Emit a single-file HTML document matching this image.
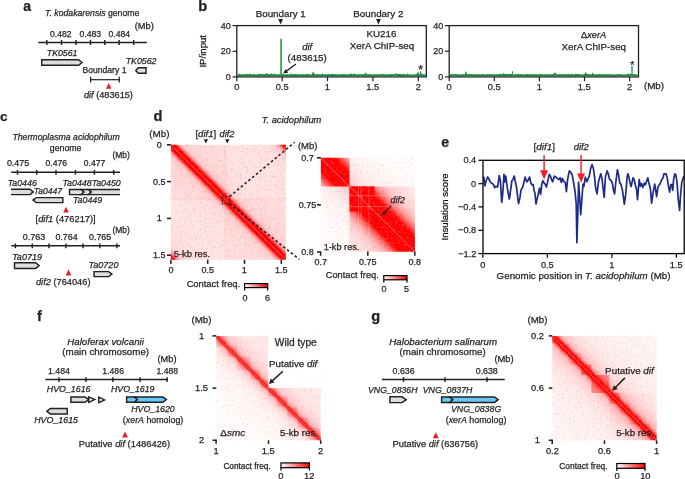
<!DOCTYPE html><html><head><meta charset="utf-8"><style>html,body{margin:0;padding:0;background:#fff}svg{display:block;will-change:transform}text{font-family:"Liberation Sans",sans-serif;stroke:currentColor;stroke-width:0.25px}</style></head><body><svg width="685" height="479" viewBox="0 0 685 479"><filter id="nzw" x="0" y="0" width="1" height="1" color-interpolation-filters="sRGB"><feTurbulence type="fractalNoise" baseFrequency="0.45" numOctaves="1" seed="7"/><feColorMatrix type="matrix" values="0 0 0 0 1  0 0 0 0 1  0 0 0 0 1  0.8 0 0 0 -0.4"/></filter><filter id="nzr" x="0" y="0" width="1" height="1" color-interpolation-filters="sRGB"><feTurbulence type="fractalNoise" baseFrequency="0.45" numOctaves="1" seed="11"/><feColorMatrix type="matrix" values="0 0 0 0 1  0 0 0 0 0  0 0 0 0 0  0 0.8 0 0 -0.42"/></filter><text x="23.28" y="10.80" font-size="14.00" fill="#231f20" color="#231f20"><tspan font-weight="bold">a</tspan></text><text x="45.02" y="15.80" font-size="8.70" fill="#231f20" color="#231f20"><tspan font-style="italic">T. kodakarensis</tspan><tspan> genome</tspan></text><text x="134.75" y="28.70" font-size="9.22" fill="#231f20" color="#231f20"><tspan>(Mb)</tspan></text><text x="50.06" y="37.20" font-size="8.59" fill="#231f20" color="#231f20"><tspan>0.482</tspan></text><text x="79.45" y="37.20" font-size="8.68" fill="#231f20" color="#231f20"><tspan>0.483</tspan></text><text x="108.45" y="37.20" font-size="8.64" fill="#231f20" color="#231f20"><tspan>0.484</tspan></text><line x1="38.30" y1="42.50" x2="146.80" y2="42.50" stroke="#231f20" stroke-width="1.55"/><line x1="46.90" y1="40.00" x2="46.90" y2="45.00" stroke="#231f20" stroke-width="1.45"/><line x1="61.50" y1="40.00" x2="61.50" y2="45.00" stroke="#231f20" stroke-width="1.45"/><line x1="76.00" y1="40.00" x2="76.00" y2="45.00" stroke="#231f20" stroke-width="1.45"/><line x1="90.50" y1="40.00" x2="90.50" y2="45.00" stroke="#231f20" stroke-width="1.45"/><line x1="104.80" y1="40.00" x2="104.80" y2="45.00" stroke="#231f20" stroke-width="1.45"/><line x1="119.10" y1="40.00" x2="119.10" y2="45.00" stroke="#231f20" stroke-width="1.45"/><line x1="133.70" y1="40.00" x2="133.70" y2="45.00" stroke="#231f20" stroke-width="1.45"/><text x="46.81" y="56.20" font-size="8.78" fill="#231f20" color="#231f20"><tspan font-style="italic">TK0561</tspan></text><path d="M41.70 59.70H78.60L82.00 62.45L78.60 65.20H41.70Z" fill="#dcdddd" stroke="#231f20" stroke-width="1.45"/><text x="125.71" y="64.40" font-size="8.81" fill="#231f20" color="#231f20"><tspan font-style="italic">TK0562</tspan></text><path d="M146.00 67.80H138.20L135.80 70.50L138.20 73.20H146.00Z" fill="#dcdddd" stroke="#231f20" stroke-width="1.45"/><text x="82.41" y="73.20" font-size="8.62" fill="#231f20" color="#231f20"><tspan>Boundary 1</tspan></text><line x1="90.20" y1="79.70" x2="119.70" y2="79.70" stroke="#231f20" stroke-width="1.2"/><line x1="90.60" y1="76.70" x2="90.60" y2="82.40" stroke="#231f20" stroke-width="1.2"/><line x1="119.30" y1="76.70" x2="119.30" y2="82.40" stroke="#231f20" stroke-width="1.2"/><path d="M105.95 88.80H111.45L108.70 83.00Z" fill="#ee1c25"/><text x="83.88" y="98.30" font-size="9.20" fill="#231f20" color="#231f20"><tspan font-style="italic">dif</tspan><tspan> (483615)</tspan></text><text x="198.25" y="10.60" font-size="14.60" fill="#231f20" color="#231f20"><tspan font-weight="bold">b</tspan></text><text transform="translate(206.3,51.3) rotate(-90)" text-anchor="middle" font-size="9.6" fill="#231f20">IP/input</text><rect x="236.8" y="25.6" width="189.5" height="51.300000000000004" fill="none" stroke="#231f20" stroke-width="1.3"/><line x1="232.60" y1="25.60" x2="236.80" y2="25.60" stroke="#231f20" stroke-width="1.2"/><text x="220.82" y="28.60" font-size="9.00" fill="#231f20" color="#231f20"><tspan>40</tspan></text><line x1="232.60" y1="51.30" x2="236.80" y2="51.30" stroke="#231f20" stroke-width="1.2"/><text x="220.83" y="54.30" font-size="9.00" fill="#231f20" color="#231f20"><tspan>20</tspan></text><line x1="232.60" y1="76.90" x2="236.80" y2="76.90" stroke="#231f20" stroke-width="1.2"/><text x="225.82" y="79.90" font-size="9.00" fill="#231f20" color="#231f20"><tspan>0</tspan></text><line x1="236.80" y1="76.90" x2="236.80" y2="81.20" stroke="#231f20" stroke-width="1.2"/><text x="234.20" y="90.20" font-size="9.30" fill="#231f20" color="#231f20"><tspan>0</tspan></text><line x1="282.18" y1="76.90" x2="282.18" y2="81.20" stroke="#231f20" stroke-width="1.2"/><text x="275.71" y="90.20" font-size="9.30" fill="#231f20" color="#231f20"><tspan>0.5</tspan></text><line x1="327.55" y1="76.90" x2="327.55" y2="81.20" stroke="#231f20" stroke-width="1.2"/><text x="324.83" y="90.20" font-size="9.30" fill="#231f20" color="#231f20"><tspan>1</tspan></text><line x1="372.93" y1="76.90" x2="372.93" y2="81.20" stroke="#231f20" stroke-width="1.2"/><text x="366.30" y="90.20" font-size="9.30" fill="#231f20" color="#231f20"><tspan>1.5</tspan></text><line x1="418.30" y1="76.90" x2="418.30" y2="81.20" stroke="#231f20" stroke-width="1.2"/><text x="415.72" y="90.20" font-size="9.30" fill="#231f20" color="#231f20"><tspan>2</tspan></text><rect x="449.2" y="25.6" width="189.3" height="51.300000000000004" fill="none" stroke="#231f20" stroke-width="1.3"/><line x1="445.00" y1="25.60" x2="449.20" y2="25.60" stroke="#231f20" stroke-width="1.2"/><text x="433.22" y="28.60" font-size="9.00" fill="#231f20" color="#231f20"><tspan>40</tspan></text><line x1="445.00" y1="51.30" x2="449.20" y2="51.30" stroke="#231f20" stroke-width="1.2"/><text x="433.22" y="54.30" font-size="9.00" fill="#231f20" color="#231f20"><tspan>20</tspan></text><line x1="445.00" y1="76.90" x2="449.20" y2="76.90" stroke="#231f20" stroke-width="1.2"/><text x="438.22" y="79.90" font-size="9.00" fill="#231f20" color="#231f20"><tspan>0</tspan></text><line x1="449.20" y1="76.90" x2="449.20" y2="81.20" stroke="#231f20" stroke-width="1.2"/><text x="446.60" y="90.20" font-size="9.30" fill="#231f20" color="#231f20"><tspan>0</tspan></text><line x1="494.30" y1="76.90" x2="494.30" y2="81.20" stroke="#231f20" stroke-width="1.2"/><text x="487.84" y="90.20" font-size="9.30" fill="#231f20" color="#231f20"><tspan>0.5</tspan></text><line x1="539.40" y1="76.90" x2="539.40" y2="81.20" stroke="#231f20" stroke-width="1.2"/><text x="536.68" y="90.20" font-size="9.30" fill="#231f20" color="#231f20"><tspan>1</tspan></text><line x1="584.50" y1="76.90" x2="584.50" y2="81.20" stroke="#231f20" stroke-width="1.2"/><text x="577.87" y="90.20" font-size="9.30" fill="#231f20" color="#231f20"><tspan>1.5</tspan></text><line x1="629.60" y1="76.90" x2="629.60" y2="81.20" stroke="#231f20" stroke-width="1.2"/><text x="627.02" y="90.20" font-size="9.30" fill="#231f20" color="#231f20"><tspan>2</tspan></text><path d="M237.5 74.8 L238.2 75.3 L238.9 75.3 L239.6 74.8 L240.3 75.1 L241.0 75.3 L241.7 75.3 L242.4 75.1 L243.1 75.3 L243.8 75.1 L244.5 75.4 L245.2 75.2 L245.9 75.3 L246.6 74.8 L247.3 75.3 L248.0 75.1 L248.7 75.1 L249.4 75.4 L250.1 74.6 L250.8 75.1 L251.5 75.3 L252.2 75.3 L252.9 75.4 L253.6 75.0 L254.3 75.3 L255.0 75.3 L255.7 75.2 L256.4 75.3 L257.1 75.3 L257.8 75.2 L258.5 74.9 L259.2 75.1 L259.9 74.8 L260.6 75.2 L261.3 74.8 L262.0 74.7 L262.7 75.0 L263.4 75.1 L264.1 75.4 L264.8 74.9 L265.5 75.2 L266.2 75.1 L266.9 74.2 L267.6 75.0 L268.3 75.2 L269.0 75.3 L269.7 75.0 L270.4 75.4 L271.1 75.2 L271.8 74.5 L272.5 75.2 L273.2 75.4 L273.9 75.2 L274.6 74.6 L275.3 75.0 L276.0 75.3 L276.7 75.2 L277.4 75.0 L278.1 75.0 L278.8 75.2 L279.5 75.2 L280.2 75.3 L280.9 75.4 L281.6 75.2 L282.3 75.1 L283.0 75.2 L283.7 75.2 L284.4 75.3 L285.1 75.2 L285.8 75.3 L286.5 75.3 L287.2 75.0 L287.9 75.2 L288.6 75.4 L289.3 75.4 L290.0 74.9 L290.7 74.5 L291.4 75.2 L292.1 75.1 L292.8 75.4 L293.5 75.2 L294.2 74.8 L294.9 75.3 L295.6 75.1 L296.3 75.1 L297.0 74.9 L297.7 75.4 L298.4 75.2 L299.1 75.1 L299.8 75.4 L300.5 75.3 L301.2 75.2 L301.9 75.4 L302.6 75.2 L303.3 75.2 L304.0 75.2 L304.7 75.4 L305.4 75.4 L306.1 74.9 L306.8 75.3 L307.5 74.9 L308.2 74.9 L308.9 75.4 L309.6 75.4 L310.3 75.3 L311.0 75.3 L311.7 75.4 L312.4 75.2 L313.1 73.5 L313.8 75.1 L314.5 74.8 L315.2 75.4 L315.9 75.2 L316.6 74.9 L317.3 75.4 L318.0 75.0 L318.7 75.2 L319.4 75.2 L320.1 75.2 L320.8 75.3 L321.5 75.2 L322.2 74.7 L322.9 75.4 L323.6 75.4 L324.3 75.2 L325.0 75.4 L325.7 75.0 L326.4 75.4 L327.1 75.1 L327.8 75.2 L328.5 75.2 L329.2 75.2 L329.9 75.1 L330.6 75.4 L331.3 75.0 L332.0 75.3 L332.7 74.8 L333.4 75.4 L334.1 75.0 L334.8 75.3 L335.5 75.2 L336.2 75.2 L336.9 75.3 L337.6 75.2 L338.3 75.1 L339.0 75.4 L339.7 75.4 L340.4 75.2 L341.1 75.1 L341.8 75.3 L342.5 74.9 L343.2 75.1 L343.9 75.1 L344.6 75.4 L345.3 75.0 L346.0 75.1 L346.7 75.2 L347.4 75.3 L348.1 75.3 L348.8 74.9 L349.5 75.1 L350.2 75.2 L350.9 74.5 L351.6 75.2 L352.3 75.3 L353.0 75.1 L353.7 74.5 L354.4 75.2 L355.1 75.2 L355.8 74.9 L356.5 75.3 L357.2 75.4 L357.9 75.4 L358.6 75.2 L359.3 75.2 L360.0 75.3 L360.7 75.2 L361.4 75.3 L362.1 75.0 L362.8 75.4 L363.5 75.1 L364.2 75.2 L364.9 75.0 L365.6 73.9 L366.3 75.3 L367.0 75.2 L367.7 75.3 L368.4 75.2 L369.1 75.1 L369.8 75.1 L370.5 75.0 L371.2 75.4 L371.9 75.3 L372.6 75.4 L373.3 75.3 L374.0 75.3 L374.7 75.0 L375.4 75.3 L376.1 75.4 L376.8 75.3 L377.5 75.0 L378.2 75.1 L378.9 75.1 L379.6 75.3 L380.3 75.2 L381.0 75.3 L381.7 74.8 L382.4 74.8 L383.1 75.2 L383.8 75.2 L384.5 75.1 L385.2 75.4 L385.9 75.3 L386.6 75.1 L387.3 75.4 L388.0 75.2 L388.7 75.3 L389.4 75.2 L390.1 75.2 L390.8 75.2 L391.5 75.0 L392.2 75.3 L392.9 75.1 L393.6 75.4 L394.3 74.8 L395.0 75.0 L395.7 74.6 L396.4 74.3 L397.1 75.2 L397.8 75.4 L398.5 74.9 L399.2 75.4 L399.9 74.7 L400.6 75.4 L401.3 75.2 L402.0 75.3 L402.7 75.0 L403.4 75.1 L404.1 75.0 L404.8 75.4 L405.5 75.3 L406.2 75.4 L406.9 75.3 L407.6 74.6 L408.3 75.0 L409.0 75.0 L409.7 75.4 L410.4 75.4 L411.1 75.3 L411.8 75.3 L412.5 75.3 L413.2 75.4 L413.9 75.3 L414.6 75.3 L415.3 75.3 L416.0 75.0 L416.7 75.4 L417.4 75.4 L418.1 73.7 L418.8 75.3 L419.5 75.3 L420.2 75.3 L420.9 74.0 L421.6 75.1 L422.3 75.3 L423.0 75.3 L423.7 75.0 L424.4 75.3 L425.1 75.4 L425.8 75.4" fill="none" stroke="#15893f" stroke-width="1.7"/><line x1="281.10" y1="76.20" x2="281.10" y2="38.80" stroke="#1b9646" stroke-width="1.6"/><line x1="420.50" y1="76.20" x2="420.50" y2="71.30" stroke="#1b9646" stroke-width="1.3"/><path d="M449.9 75.2 L450.6 75.3 L451.3 75.1 L452.0 75.2 L452.7 74.9 L453.4 75.0 L454.1 74.9 L454.8 74.9 L455.5 75.1 L456.2 75.3 L456.9 75.2 L457.6 75.2 L458.3 75.2 L459.0 75.3 L459.7 75.3 L460.4 75.4 L461.1 75.3 L461.8 75.3 L462.5 75.0 L463.2 75.1 L463.9 75.2 L464.6 75.3 L465.3 75.4 L466.0 73.4 L466.7 75.1 L467.4 75.2 L468.1 75.3 L468.8 75.0 L469.5 74.7 L470.2 75.1 L470.9 75.2 L471.6 75.0 L472.3 75.3 L473.0 75.2 L473.7 75.4 L474.4 75.4 L475.1 75.1 L475.8 75.0 L476.5 75.1 L477.2 75.1 L477.9 75.3 L478.6 75.0 L479.3 75.0 L480.0 75.4 L480.7 75.4 L481.4 75.2 L482.1 74.8 L482.8 75.3 L483.5 75.3 L484.2 75.2 L484.9 75.4 L485.6 75.4 L486.3 75.3 L487.0 74.9 L487.7 75.1 L488.4 75.2 L489.1 75.1 L489.8 75.1 L490.5 75.3 L491.2 75.0 L491.9 75.3 L492.6 75.1 L493.3 75.3 L494.0 75.2 L494.7 75.1 L495.4 75.3 L496.1 75.2 L496.8 75.2 L497.5 75.3 L498.2 75.2 L498.9 75.4 L499.6 74.8 L500.3 75.1 L501.0 75.4 L501.7 75.3 L502.4 74.9 L503.1 75.3 L503.8 74.3 L504.5 75.2 L505.2 75.1 L505.9 75.2 L506.6 74.9 L507.3 75.1 L508.0 75.1 L508.7 74.7 L509.4 75.3 L510.1 75.3 L510.8 74.8 L511.5 75.2 L512.2 74.6 L512.9 75.2 L513.6 75.3 L514.3 75.3 L515.0 75.2 L515.7 74.8 L516.4 75.0 L517.1 75.0 L517.8 74.8 L518.5 75.4 L519.2 75.1 L519.9 75.2 L520.6 75.3 L521.3 74.9 L522.0 75.3 L522.7 75.4 L523.4 75.1 L524.1 75.4 L524.8 75.3 L525.5 75.0 L526.2 75.0 L526.9 75.4 L527.6 74.7 L528.3 75.1 L529.0 75.1 L529.7 75.2 L530.4 75.3 L531.1 75.2 L531.8 75.0 L532.5 75.1 L533.2 75.2 L533.9 75.4 L534.6 74.9 L535.3 75.3 L536.0 75.3 L536.7 75.3 L537.4 75.1 L538.1 75.2 L538.8 75.4 L539.5 75.3 L540.2 75.1 L540.9 74.9 L541.6 75.4 L542.3 75.0 L543.0 75.2 L543.7 75.3 L544.4 75.3 L545.1 75.1 L545.8 75.4 L546.5 75.4 L547.2 75.0 L547.9 75.3 L548.6 75.4 L549.3 75.1 L550.0 75.1 L550.7 75.1 L551.4 75.4 L552.1 75.2 L552.8 75.1 L553.5 75.0 L554.2 75.2 L554.9 73.7 L555.6 74.8 L556.3 75.1 L557.0 75.0 L557.7 75.2 L558.4 75.2 L559.1 75.0 L559.8 75.1 L560.5 75.3 L561.2 75.2 L561.9 75.0 L562.6 75.2 L563.3 75.2 L564.0 75.3 L564.7 75.0 L565.4 74.8 L566.1 75.2 L566.8 75.1 L567.5 75.2 L568.2 75.3 L568.9 74.9 L569.6 75.0 L570.3 75.3 L571.0 75.2 L571.7 74.8 L572.4 75.4 L573.1 75.3 L573.8 75.3 L574.5 75.2 L575.2 75.3 L575.9 74.7 L576.6 75.3 L577.3 75.0 L578.0 75.3 L578.7 75.0 L579.4 75.2 L580.1 75.3 L580.8 75.1 L581.5 75.3 L582.2 75.3 L582.9 75.3 L583.6 75.2 L584.3 75.2 L585.0 75.3 L585.7 73.8 L586.4 75.3 L587.1 74.9 L587.8 74.9 L588.5 75.1 L589.2 75.2 L589.9 75.3 L590.6 75.1 L591.3 75.3 L592.0 75.3 L592.7 74.0 L593.4 75.0 L594.1 75.2 L594.8 75.3 L595.5 75.3 L596.2 75.0 L596.9 75.3 L597.6 75.4 L598.3 74.9 L599.0 75.2 L599.7 75.2 L600.4 75.0 L601.1 75.3 L601.8 75.2 L602.5 75.0 L603.2 75.1 L603.9 75.4 L604.6 75.1 L605.3 75.1 L606.0 75.3 L606.7 75.4 L607.4 75.1 L608.1 74.9 L608.8 75.3 L609.5 75.3 L610.2 75.2 L610.9 75.3 L611.6 75.1 L612.3 75.2 L613.0 75.2 L613.7 75.3 L614.4 75.3 L615.1 75.3 L615.8 75.3 L616.5 75.3 L617.2 75.0 L617.9 74.9 L618.6 75.1 L619.3 75.2 L620.0 75.1 L620.7 75.2 L621.4 75.1 L622.1 75.3 L622.8 75.4 L623.5 75.3 L624.2 75.3 L624.9 75.3 L625.6 75.1 L626.3 75.0 L627.0 74.9 L627.7 74.8 L628.4 75.4 L629.1 75.1 L629.8 74.6 L630.5 75.1 L631.2 74.7 L631.9 75.0 L632.6 75.0 L633.3 75.2 L634.0 74.8 L634.7 74.8 L635.4 75.3 L636.1 75.3 L636.8 75.3 L637.5 74.9" fill="none" stroke="#15893f" stroke-width="1.7"/><line x1="632.00" y1="76.20" x2="632.00" y2="66.10" stroke="#1b9646" stroke-width="1.3"/><line x1="512.50" y1="76.20" x2="512.50" y2="71.30" stroke="#1b9646" stroke-width="1.1"/><text x="255.72" y="16.80" font-size="9.78" fill="#231f20" color="#231f20"><tspan>Boundary 1</tspan></text><text x="353.32" y="16.80" font-size="9.79" fill="#231f20" color="#231f20"><tspan>Boundary 2</tspan></text><path d="M278.20 19.00H283.00L280.60 24.60Z" fill="#231f20"/><path d="M376.10 19.00H380.90L378.50 24.60Z" fill="#231f20"/><text x="366.41" y="36.70" font-size="9.81" fill="#231f20" color="#231f20"><tspan>KU216</tspan></text><text x="349.86" y="48.80" font-size="9.72" fill="#231f20" color="#231f20"><tspan>XerA ChIP-seq</tspan></text><text x="302.17" y="49.60" font-size="9.55" fill="#231f20" color="#231f20"><tspan font-style="italic">dif</tspan></text><text x="287.61" y="61.30" font-size="9.79" fill="#231f20" color="#231f20"><tspan>(483615)</tspan></text><line x1="296.00" y1="64.10" x2="286.42" y2="71.13" stroke="#231f20" stroke-width="1.3"/><path d="M283.20 73.50L285.47 68.98L288.19 72.69Z" fill="#231f20"/><text x="418.22" y="73.83" font-size="12.22" fill="#231f20" color="#231f20"><tspan>*</tspan></text><text x="580.92" y="37.70" font-size="9.32" fill="#231f20" color="#231f20"><tspan>Δ</tspan><tspan font-style="italic">xerA</tspan></text><text x="561.46" y="49.50" font-size="9.78" fill="#231f20" color="#231f20"><tspan>XerA ChIP-seq</tspan></text><text x="630.34" y="68.78" font-size="10.56" fill="#231f20" color="#231f20"><tspan>*</tspan></text><text x="643.91" y="88.90" font-size="9.79" fill="#231f20" color="#231f20"><tspan>(Mb)</tspan></text><text x="0.06" y="120.50" font-size="13.60" fill="#231f20" color="#231f20"><tspan font-weight="bold">c</tspan></text><text x="12.41" y="139.60" font-size="8.74" fill="#231f20" color="#231f20"><tspan font-style="italic">Thermoplasma acidophilum</tspan></text><text x="49.85" y="150.70" font-size="8.75" fill="#231f20" color="#231f20"><tspan>genome</tspan></text><text x="112.39" y="158.30" font-size="8.45" fill="#231f20" color="#231f20"><tspan>(Mb)</tspan></text><text x="6.94" y="166.40" font-size="8.88" fill="#231f20" color="#231f20"><tspan>0.475</tspan></text><text x="45.56" y="166.40" font-size="8.55" fill="#231f20" color="#231f20"><tspan>0.476</tspan></text><text x="83.86" y="166.40" font-size="8.51" fill="#231f20" color="#231f20"><tspan>0.477</tspan></text><line x1="11.30" y1="172.20" x2="120.00" y2="172.20" stroke="#231f20" stroke-width="1.55"/><line x1="17.50" y1="170.00" x2="17.50" y2="174.70" stroke="#231f20" stroke-width="1.45"/><line x1="36.70" y1="170.00" x2="36.70" y2="174.70" stroke="#231f20" stroke-width="1.45"/><line x1="56.00" y1="170.00" x2="56.00" y2="174.70" stroke="#231f20" stroke-width="1.45"/><line x1="75.40" y1="170.00" x2="75.40" y2="174.70" stroke="#231f20" stroke-width="1.45"/><line x1="94.40" y1="170.00" x2="94.40" y2="174.70" stroke="#231f20" stroke-width="1.45"/><line x1="113.70" y1="170.00" x2="113.70" y2="174.70" stroke="#231f20" stroke-width="1.45"/><text x="7.71" y="186.20" font-size="8.82" fill="#231f20" color="#231f20"><tspan font-style="italic">Ta0446</tspan></text><path d="M11.00 189.20H29.90L33.30 191.90L29.90 194.60H11.00" fill="#dcdddd" stroke="#231f20" stroke-width="1.45"/><text x="33.83" y="194.00" font-size="8.58" fill="#231f20" color="#231f20"><tspan font-style="italic">Ta0447</tspan></text><path d="M62.80 197.60H36.40L32.90 200.10L36.40 202.60H62.80Z" fill="#dcdddd" stroke="#231f20" stroke-width="1.45"/><text x="62.50" y="186.40" font-size="8.84" fill="#231f20" color="#231f20"><tspan font-style="italic">Ta0448Ta0450</tspan></text><path d="M69.5 189.4H81.3L84.0 192.0L81.3 194.6H69.5Z" fill="#dcdddd" stroke="#231f20" stroke-width="1.45"/><path d="M81.3 189.4H88.6L91.3 192.0L88.6 194.6H81.3L84.0 192.0Z" fill="#dcdddd" stroke="#231f20" stroke-width="1.45"/><path d="M120.0 189.4H88.6L91.3 192.0L88.6 194.6H120.0" fill="#dcdddd" stroke="#231f20" stroke-width="1.45"/><text x="73.00" y="203.10" font-size="8.84" fill="#231f20" color="#231f20"><tspan font-style="italic">Ta0449</tspan></text><path d="M63.20 212.60H68.80L66.00 206.80Z" fill="#ee1c25"/><text x="35.55" y="221.70" font-size="9.34" fill="#231f20" color="#231f20"><tspan>[</tspan><tspan font-style="italic">dif1</tspan><tspan> (476217)]</tspan></text><text x="112.39" y="232.60" font-size="8.45" fill="#231f20" color="#231f20"><tspan>(Mb)</tspan></text><text x="22.74" y="240.20" font-size="8.97" fill="#231f20" color="#231f20"><tspan>0.763</tspan></text><text x="55.44" y="240.20" font-size="8.89" fill="#231f20" color="#231f20"><tspan>0.764</tspan></text><text x="89.04" y="240.30" font-size="8.88" fill="#231f20" color="#231f20"><tspan>0.765</tspan></text><line x1="11.30" y1="245.70" x2="120.00" y2="245.70" stroke="#231f20" stroke-width="1.55"/><line x1="15.40" y1="243.50" x2="15.40" y2="248.20" stroke="#231f20" stroke-width="1.45"/><line x1="32.30" y1="243.50" x2="32.30" y2="248.20" stroke="#231f20" stroke-width="1.45"/><line x1="49.00" y1="243.50" x2="49.00" y2="248.20" stroke="#231f20" stroke-width="1.45"/><line x1="65.90" y1="243.50" x2="65.90" y2="248.20" stroke="#231f20" stroke-width="1.45"/><line x1="83.00" y1="243.50" x2="83.00" y2="248.20" stroke="#231f20" stroke-width="1.45"/><line x1="99.80" y1="243.50" x2="99.80" y2="248.20" stroke="#231f20" stroke-width="1.45"/><line x1="116.90" y1="243.50" x2="116.90" y2="248.20" stroke="#231f20" stroke-width="1.45"/><text x="12.19" y="259.70" font-size="9.03" fill="#231f20" color="#231f20"><tspan font-style="italic">Ta0719</tspan></text><path d="M14.50 262.80H35.60L39.10 265.60L35.60 268.40H14.50Z" fill="#dcdddd" stroke="#231f20" stroke-width="1.45"/><text x="88.59" y="268.00" font-size="9.05" fill="#231f20" color="#231f20"><tspan font-style="italic">Ta0720</tspan></text><path d="M94.10 271.60H108.70L111.90 274.10L108.70 276.60H94.10Z" fill="#dcdddd" stroke="#231f20" stroke-width="1.45"/><path d="M65.75 275.40H71.25L68.50 269.20Z" fill="#ee1c25"/><text x="35.98" y="284.70" font-size="9.25" fill="#231f20" color="#231f20"><tspan font-style="italic">dif2</tspan><tspan> (764046)</tspan></text><text x="153.52" y="121.00" font-size="14.60" fill="#231f20" color="#231f20"><tspan font-weight="bold">d</tspan></text><text x="261.66" y="123.00" font-size="9.32" fill="#231f20" color="#231f20"><tspan font-style="italic">T. acidophilum</tspan></text><text x="149.21" y="136.60" font-size="9.90" fill="#231f20" color="#231f20"><tspan>(Mb)</tspan></text><text x="195.43" y="136.70" font-size="9.58" fill="#231f20" color="#231f20"><tspan>[</tspan><tspan font-style="italic">dif1</tspan><tspan>]</tspan></text><text x="219.47" y="136.70" font-size="9.29" fill="#231f20" color="#231f20"><tspan font-style="italic">dif2</tspan></text><path d="M203.70 139.20H208.10L205.90 143.40Z" fill="#231f20"/><path d="M225.10 139.20H229.50L227.30 143.40Z" fill="#231f20"/><clipPath id="c1"><rect x="170.90" y="144.80" width="115.00" height="115.00"/></clipPath><rect x="170.90" y="144.80" width="115.00" height="115.00" fill="rgb(255,232,232)"/><rect x="170.90" y="144.80" width="54.83" height="54.83" fill="#f00" fill-opacity="0.025" clip-path="url(#c1)"/><rect x="225.73" y="199.63" width="60.32" height="60.32" fill="#f00" fill-opacity="0.025" clip-path="url(#c1)"/><rect x="170.90" y="197.79" width="115.15" height="2.58" fill="#f00" fill-opacity="0.030" clip-path="url(#c1)"/><rect x="223.89" y="144.80" width="2.58" height="115.15" fill="#f00" fill-opacity="0.030" clip-path="url(#c1)"/><linearGradient id="b2" x1="0" y1="0" x2="0" y2="1"><stop offset="0.0000" stop-color="#f00" stop-opacity="0.001"/><stop offset="0.0253" stop-color="#f00" stop-opacity="0.001"/><stop offset="0.0500" stop-color="#f00" stop-opacity="0.001"/><stop offset="0.0740" stop-color="#f00" stop-opacity="0.002"/><stop offset="0.0973" stop-color="#f00" stop-opacity="0.002"/><stop offset="0.1200" stop-color="#f00" stop-opacity="0.002"/><stop offset="0.1420" stop-color="#f00" stop-opacity="0.003"/><stop offset="0.1634" stop-color="#f00" stop-opacity="0.004"/><stop offset="0.1841" stop-color="#f00" stop-opacity="0.004"/><stop offset="0.2041" stop-color="#f00" stop-opacity="0.005"/><stop offset="0.2235" stop-color="#f00" stop-opacity="0.006"/><stop offset="0.2423" stop-color="#f00" stop-opacity="0.008"/><stop offset="0.2604" stop-color="#f00" stop-opacity="0.009"/><stop offset="0.2778" stop-color="#f00" stop-opacity="0.011"/><stop offset="0.2945" stop-color="#f00" stop-opacity="0.012"/><stop offset="0.3107" stop-color="#f00" stop-opacity="0.015"/><stop offset="0.3261" stop-color="#f00" stop-opacity="0.017"/><stop offset="0.3409" stop-color="#f00" stop-opacity="0.020"/><stop offset="0.3550" stop-color="#f00" stop-opacity="0.023"/><stop offset="0.3685" stop-color="#f00" stop-opacity="0.026"/><stop offset="0.3813" stop-color="#f00" stop-opacity="0.030"/><stop offset="0.3935" stop-color="#f00" stop-opacity="0.035"/><stop offset="0.4050" stop-color="#f00" stop-opacity="0.041"/><stop offset="0.4158" stop-color="#f00" stop-opacity="0.047"/><stop offset="0.4260" stop-color="#f00" stop-opacity="0.055"/><stop offset="0.4356" stop-color="#f00" stop-opacity="0.065"/><stop offset="0.4444" stop-color="#f00" stop-opacity="0.083"/><stop offset="0.4527" stop-color="#f00" stop-opacity="0.121"/><stop offset="0.4602" stop-color="#f00" stop-opacity="0.201"/><stop offset="0.4671" stop-color="#f00" stop-opacity="0.342"/><stop offset="0.4734" stop-color="#f00" stop-opacity="0.544"/><stop offset="0.4790" stop-color="#f00" stop-opacity="0.782"/><stop offset="0.4839" stop-color="#f00" stop-opacity="1.000"/><stop offset="0.4882" stop-color="#f00" stop-opacity="1.000"/><stop offset="0.4918" stop-color="#f00" stop-opacity="1.000"/><stop offset="0.4947" stop-color="#f00" stop-opacity="1.000"/><stop offset="0.4970" stop-color="#f00" stop-opacity="1.000"/><stop offset="0.4987" stop-color="#f00" stop-opacity="1.000"/><stop offset="0.4997" stop-color="#f00" stop-opacity="1.000"/><stop offset="0.5000" stop-color="#f00" stop-opacity="1.000"/><stop offset="0.5003" stop-color="#f00" stop-opacity="1.000"/><stop offset="0.5013" stop-color="#f00" stop-opacity="1.000"/><stop offset="0.5030" stop-color="#f00" stop-opacity="1.000"/><stop offset="0.5053" stop-color="#f00" stop-opacity="1.000"/><stop offset="0.5082" stop-color="#f00" stop-opacity="1.000"/><stop offset="0.5118" stop-color="#f00" stop-opacity="1.000"/><stop offset="0.5161" stop-color="#f00" stop-opacity="1.000"/><stop offset="0.5210" stop-color="#f00" stop-opacity="0.782"/><stop offset="0.5266" stop-color="#f00" stop-opacity="0.544"/><stop offset="0.5329" stop-color="#f00" stop-opacity="0.342"/><stop offset="0.5398" stop-color="#f00" stop-opacity="0.201"/><stop offset="0.5473" stop-color="#f00" stop-opacity="0.121"/><stop offset="0.5556" stop-color="#f00" stop-opacity="0.083"/><stop offset="0.5644" stop-color="#f00" stop-opacity="0.065"/><stop offset="0.5740" stop-color="#f00" stop-opacity="0.055"/><stop offset="0.5842" stop-color="#f00" stop-opacity="0.047"/><stop offset="0.5950" stop-color="#f00" stop-opacity="0.041"/><stop offset="0.6065" stop-color="#f00" stop-opacity="0.035"/><stop offset="0.6187" stop-color="#f00" stop-opacity="0.030"/><stop offset="0.6315" stop-color="#f00" stop-opacity="0.026"/><stop offset="0.6450" stop-color="#f00" stop-opacity="0.023"/><stop offset="0.6591" stop-color="#f00" stop-opacity="0.020"/><stop offset="0.6739" stop-color="#f00" stop-opacity="0.017"/><stop offset="0.6893" stop-color="#f00" stop-opacity="0.015"/><stop offset="0.7055" stop-color="#f00" stop-opacity="0.012"/><stop offset="0.7222" stop-color="#f00" stop-opacity="0.011"/><stop offset="0.7396" stop-color="#f00" stop-opacity="0.009"/><stop offset="0.7577" stop-color="#f00" stop-opacity="0.008"/><stop offset="0.7765" stop-color="#f00" stop-opacity="0.006"/><stop offset="0.7959" stop-color="#f00" stop-opacity="0.005"/><stop offset="0.8159" stop-color="#f00" stop-opacity="0.004"/><stop offset="0.8366" stop-color="#f00" stop-opacity="0.004"/><stop offset="0.8580" stop-color="#f00" stop-opacity="0.003"/><stop offset="0.8800" stop-color="#f00" stop-opacity="0.002"/><stop offset="0.9027" stop-color="#f00" stop-opacity="0.002"/><stop offset="0.9260" stop-color="#f00" stop-opacity="0.002"/><stop offset="0.9500" stop-color="#f00" stop-opacity="0.001"/><stop offset="0.9747" stop-color="#f00" stop-opacity="0.001"/><stop offset="1.0000" stop-color="#f00" stop-opacity="0.001"/></linearGradient><g clip-path="url(#c1)"><rect transform="translate(170.90 144.80) rotate(45)" x="-88.3" y="-83.32" width="339.3" height="166.63" fill="url(#b2)"/><rect transform="translate(285.90 144.80) rotate(45)" x="-88.3" y="-83.32" width="339.3" height="166.63" fill="url(#b2)"/><rect transform="translate(55.90 144.80) rotate(45)" x="-88.3" y="-83.32" width="339.3" height="166.63" fill="url(#b2)"/></g><clipPath id="c3"><path d="M170.90 144.80 L176.79 144.80 L176.79 150.69 L170.90 150.69Z"/></clipPath><linearGradient id="b4" x1="0" y1="0" x2="0" y2="1"><stop offset="0.0000" stop-color="#f00" stop-opacity="0.000"/><stop offset="0.0644" stop-color="#f00" stop-opacity="0.000"/><stop offset="0.1244" stop-color="#f00" stop-opacity="0.000"/><stop offset="0.1800" stop-color="#f00" stop-opacity="0.000"/><stop offset="0.2311" stop-color="#f00" stop-opacity="0.000"/><stop offset="0.2778" stop-color="#f00" stop-opacity="0.000"/><stop offset="0.3200" stop-color="#f00" stop-opacity="0.000"/><stop offset="0.3578" stop-color="#f00" stop-opacity="0.000"/><stop offset="0.3911" stop-color="#f00" stop-opacity="0.000"/><stop offset="0.4200" stop-color="#f00" stop-opacity="0.000"/><stop offset="0.4444" stop-color="#f00" stop-opacity="0.002"/><stop offset="0.4644" stop-color="#f00" stop-opacity="0.014"/><stop offset="0.4800" stop-color="#f00" stop-opacity="0.056"/><stop offset="0.4911" stop-color="#f00" stop-opacity="0.155"/><stop offset="0.4978" stop-color="#f00" stop-opacity="0.286"/><stop offset="0.5000" stop-color="#f00" stop-opacity="0.350"/><stop offset="0.5022" stop-color="#f00" stop-opacity="0.286"/><stop offset="0.5089" stop-color="#f00" stop-opacity="0.155"/><stop offset="0.5200" stop-color="#f00" stop-opacity="0.056"/><stop offset="0.5356" stop-color="#f00" stop-opacity="0.014"/><stop offset="0.5556" stop-color="#f00" stop-opacity="0.002"/><stop offset="0.5800" stop-color="#f00" stop-opacity="0.000"/><stop offset="0.6089" stop-color="#f00" stop-opacity="0.000"/><stop offset="0.6422" stop-color="#f00" stop-opacity="0.000"/><stop offset="0.6800" stop-color="#f00" stop-opacity="0.000"/><stop offset="0.7222" stop-color="#f00" stop-opacity="0.000"/><stop offset="0.7689" stop-color="#f00" stop-opacity="0.000"/><stop offset="0.8200" stop-color="#f00" stop-opacity="0.000"/><stop offset="0.8756" stop-color="#f00" stop-opacity="0.000"/><stop offset="0.9356" stop-color="#f00" stop-opacity="0.000"/><stop offset="1.0000" stop-color="#f00" stop-opacity="0.000"/></linearGradient><g clip-path="url(#c3)"><rect transform="translate(170.90 144.80) rotate(45)" x="-88.3" y="-83.32" width="339.3" height="166.63" fill="url(#b4)"/></g><clipPath id="c5"><path d="M176.79 150.69 L183.41 150.69 L183.41 157.31 L176.79 157.31Z"/></clipPath><g clip-path="url(#c5)"><rect transform="translate(170.90 144.80) rotate(45)" x="-88.3" y="-83.32" width="339.3" height="166.63" fill="url(#b4)"/></g><clipPath id="c6"><path d="M183.41 157.31 L190.04 157.31 L190.04 163.94 L183.41 163.94Z"/></clipPath><g clip-path="url(#c6)"><rect transform="translate(170.90 144.80) rotate(45)" x="-88.3" y="-83.32" width="339.3" height="166.63" fill="url(#b4)"/></g><clipPath id="c7"><path d="M190.04 163.94 L197.40 163.94 L197.40 171.30 L190.04 171.30Z"/></clipPath><g clip-path="url(#c7)"><rect transform="translate(170.90 144.80) rotate(45)" x="-88.3" y="-83.32" width="339.3" height="166.63" fill="url(#b4)"/></g><clipPath id="c8"><path d="M197.40 171.30 L204.02 171.30 L204.02 177.92 L197.40 177.92Z"/></clipPath><g clip-path="url(#c8)"><rect transform="translate(170.90 144.80) rotate(45)" x="-88.3" y="-83.32" width="339.3" height="166.63" fill="url(#b4)"/></g><clipPath id="c9"><path d="M204.02 177.92 L211.38 177.92 L211.38 185.28 L204.02 185.28Z"/></clipPath><g clip-path="url(#c9)"><rect transform="translate(170.90 144.80) rotate(45)" x="-88.3" y="-83.32" width="339.3" height="166.63" fill="url(#b4)"/></g><clipPath id="c10"><path d="M211.38 185.28 L218.00 185.28 L218.00 191.90 L211.38 191.90Z"/></clipPath><g clip-path="url(#c10)"><rect transform="translate(170.90 144.80) rotate(45)" x="-88.3" y="-83.32" width="339.3" height="166.63" fill="url(#b4)"/></g><clipPath id="c11"><path d="M218.00 191.90 L225.00 191.90 L225.00 198.90 L218.00 198.90Z"/></clipPath><g clip-path="url(#c11)"><rect transform="translate(170.90 144.80) rotate(45)" x="-88.3" y="-83.32" width="339.3" height="166.63" fill="url(#b4)"/></g><clipPath id="c12"><path d="M225.00 198.90 L229.78 198.90 L229.78 203.68 L225.00 203.68Z"/></clipPath><g clip-path="url(#c12)"><rect transform="translate(170.90 144.80) rotate(45)" x="-88.3" y="-83.32" width="339.3" height="166.63" fill="url(#b4)"/></g><clipPath id="c13"><path d="M229.78 203.68 L235.67 203.68 L235.67 209.57 L229.78 209.57Z"/></clipPath><g clip-path="url(#c13)"><rect transform="translate(170.90 144.80) rotate(45)" x="-88.3" y="-83.32" width="339.3" height="166.63" fill="url(#b4)"/></g><clipPath id="c14"><path d="M235.67 209.57 L242.29 209.57 L242.29 216.19 L235.67 216.19Z"/></clipPath><g clip-path="url(#c14)"><rect transform="translate(170.90 144.80) rotate(45)" x="-88.3" y="-83.32" width="339.3" height="166.63" fill="url(#b4)"/></g><clipPath id="c15"><path d="M242.29 216.19 L248.18 216.19 L248.18 222.08 L242.29 222.08Z"/></clipPath><g clip-path="url(#c15)"><rect transform="translate(170.90 144.80) rotate(45)" x="-88.3" y="-83.32" width="339.3" height="166.63" fill="url(#b4)"/></g><clipPath id="c16"><path d="M248.18 222.08 L254.07 222.08 L254.07 227.97 L248.18 227.97Z"/></clipPath><g clip-path="url(#c16)"><rect transform="translate(170.90 144.80) rotate(45)" x="-88.3" y="-83.32" width="339.3" height="166.63" fill="url(#b4)"/></g><clipPath id="c17"><path d="M254.07 227.97 L260.69 227.97 L260.69 234.59 L254.07 234.59Z"/></clipPath><g clip-path="url(#c17)"><rect transform="translate(170.90 144.80) rotate(45)" x="-88.3" y="-83.32" width="339.3" height="166.63" fill="url(#b4)"/></g><clipPath id="c18"><path d="M260.69 234.59 L266.58 234.59 L266.58 240.48 L260.69 240.48Z"/></clipPath><g clip-path="url(#c18)"><rect transform="translate(170.90 144.80) rotate(45)" x="-88.3" y="-83.32" width="339.3" height="166.63" fill="url(#b4)"/></g><clipPath id="c19"><path d="M266.58 240.48 L272.47 240.48 L272.47 246.37 L266.58 246.37Z"/></clipPath><g clip-path="url(#c19)"><rect transform="translate(170.90 144.80) rotate(45)" x="-88.3" y="-83.32" width="339.3" height="166.63" fill="url(#b4)"/></g><clipPath id="c20"><path d="M272.47 246.37 L279.09 246.37 L279.09 252.99 L272.47 252.99Z"/></clipPath><g clip-path="url(#c20)"><rect transform="translate(170.90 144.80) rotate(45)" x="-88.3" y="-83.32" width="339.3" height="166.63" fill="url(#b4)"/></g><clipPath id="c21"><path d="M279.09 252.99 L286.05 252.99 L286.05 259.95 L279.09 259.95Z"/></clipPath><g clip-path="url(#c21)"><rect transform="translate(170.90 144.80) rotate(45)" x="-88.3" y="-83.32" width="339.3" height="166.63" fill="url(#b4)"/></g><line x1="170.90" y1="144.80" x2="285.90" y2="259.80" stroke="#f07070" stroke-width="0.9"/><rect x="170.90" y="144.80" width="115.00" height="115.00" filter="url(#nzw)" opacity="0.6"/><rect x="170.90" y="144.80" width="115.00" height="115.00" filter="url(#nzr)" opacity="0.6"/><line x1="167.00" y1="144.80" x2="170.90" y2="144.80" stroke="#231f20" stroke-width="1.55"/><text x="156.78" y="147.80" font-size="9.00" fill="#231f20" color="#231f20"><tspan>0</tspan></text><line x1="167.00" y1="181.60" x2="170.90" y2="181.60" stroke="#231f20" stroke-width="1.55"/><text x="153.05" y="184.60" font-size="9.00" fill="#231f20" color="#231f20"><tspan>0.5</tspan></text><line x1="167.00" y1="218.40" x2="170.90" y2="218.40" stroke="#231f20" stroke-width="1.55"/><text x="156.67" y="221.40" font-size="9.00" fill="#231f20" color="#231f20"><tspan>1</tspan></text><line x1="167.00" y1="255.20" x2="170.90" y2="255.20" stroke="#231f20" stroke-width="1.55"/><text x="152.89" y="258.20" font-size="9.00" fill="#231f20" color="#231f20"><tspan>1.5</tspan></text><line x1="170.90" y1="259.80" x2="170.90" y2="263.90" stroke="#231f20" stroke-width="1.55"/><text x="168.38" y="272.70" font-size="9.00" fill="#231f20" color="#231f20"><tspan>0</tspan></text><line x1="207.70" y1="259.80" x2="207.70" y2="263.90" stroke="#231f20" stroke-width="1.55"/><text x="201.44" y="272.70" font-size="9.00" fill="#231f20" color="#231f20"><tspan>0.5</tspan></text><line x1="244.50" y1="259.80" x2="244.50" y2="263.90" stroke="#231f20" stroke-width="1.55"/><text x="241.87" y="272.70" font-size="9.00" fill="#231f20" color="#231f20"><tspan>1</tspan></text><line x1="281.30" y1="259.80" x2="281.30" y2="263.90" stroke="#231f20" stroke-width="1.55"/><text x="274.89" y="272.70" font-size="9.00" fill="#231f20" color="#231f20"><tspan>1.5</tspan></text><text x="173.63" y="256.80" font-size="9.37" fill="#231f20" color="#231f20"><tspan>5-kb res.</tspan></text><rect x="222.4" y="196.5" width="7.3" height="7.3" fill="none" stroke="#231f20" stroke-width="1.1" stroke-dasharray="1.6 1.4"/><line x1="229.60" y1="196.50" x2="294.60" y2="142.40" stroke="#231f20" stroke-width="1.6" stroke-dasharray="2.5 2.4"/><line x1="229.60" y1="203.80" x2="299.30" y2="259.40" stroke="#231f20" stroke-width="1.6" stroke-dasharray="2.5 2.4"/><text x="186.63" y="286.90" font-size="9.35" fill="#231f20" color="#231f20"><tspan>Contact freq.</tspan></text><defs><linearGradient id="cb" x1="0" x2="1" y1="0" y2="0"><stop offset="0" stop-color="#fff"/><stop offset="1" stop-color="#f00"/></linearGradient></defs><rect x="244.6" y="283.6" width="23.099999999999994" height="4.0" fill="url(#cb)" stroke="#000" stroke-width="1.2"/><line x1="244.60" y1="287.60" x2="244.60" y2="290.60" stroke="#000" stroke-width="1.2"/><line x1="267.70" y1="287.60" x2="267.70" y2="290.60" stroke="#000" stroke-width="1.2"/><text x="242.48" y="301.00" font-size="9.00" fill="#231f20" color="#231f20"><tspan>0</tspan></text><text x="265.06" y="301.00" font-size="9.00" fill="#231f20" color="#231f20"><tspan>6</tspan></text><clipPath id="c22"><rect x="320.90" y="157.80" width="94.00" height="94.00"/></clipPath><rect x="320.90" y="157.80" width="94.00" height="94.00" fill="rgb(255,255,255)"/><linearGradient id="b23" x1="0" y1="0" x2="0" y2="1"><stop offset="0.0000" stop-color="#f00" stop-opacity="0.005"/><stop offset="0.0253" stop-color="#f00" stop-opacity="0.006"/><stop offset="0.0500" stop-color="#f00" stop-opacity="0.006"/><stop offset="0.0740" stop-color="#f00" stop-opacity="0.007"/><stop offset="0.0973" stop-color="#f00" stop-opacity="0.008"/><stop offset="0.1200" stop-color="#f00" stop-opacity="0.009"/><stop offset="0.1420" stop-color="#f00" stop-opacity="0.010"/><stop offset="0.1634" stop-color="#f00" stop-opacity="0.012"/><stop offset="0.1841" stop-color="#f00" stop-opacity="0.014"/><stop offset="0.2041" stop-color="#f00" stop-opacity="0.016"/><stop offset="0.2235" stop-color="#f00" stop-opacity="0.018"/><stop offset="0.2423" stop-color="#f00" stop-opacity="0.022"/><stop offset="0.2604" stop-color="#f00" stop-opacity="0.025"/><stop offset="0.2778" stop-color="#f00" stop-opacity="0.029"/><stop offset="0.2945" stop-color="#f00" stop-opacity="0.034"/><stop offset="0.3107" stop-color="#f00" stop-opacity="0.040"/><stop offset="0.3261" stop-color="#f00" stop-opacity="0.046"/><stop offset="0.3409" stop-color="#f00" stop-opacity="0.053"/><stop offset="0.3550" stop-color="#f00" stop-opacity="0.060"/><stop offset="0.3685" stop-color="#f00" stop-opacity="0.069"/><stop offset="0.3813" stop-color="#f00" stop-opacity="0.078"/><stop offset="0.3935" stop-color="#f00" stop-opacity="0.087"/><stop offset="0.4050" stop-color="#f00" stop-opacity="0.098"/><stop offset="0.4158" stop-color="#f00" stop-opacity="0.109"/><stop offset="0.4260" stop-color="#f00" stop-opacity="0.121"/><stop offset="0.4356" stop-color="#f00" stop-opacity="0.133"/><stop offset="0.4444" stop-color="#f00" stop-opacity="0.145"/><stop offset="0.4527" stop-color="#f00" stop-opacity="0.158"/><stop offset="0.4602" stop-color="#f00" stop-opacity="0.170"/><stop offset="0.4671" stop-color="#f00" stop-opacity="0.182"/><stop offset="0.4734" stop-color="#f00" stop-opacity="0.194"/><stop offset="0.4790" stop-color="#f00" stop-opacity="0.205"/><stop offset="0.4839" stop-color="#f00" stop-opacity="0.216"/><stop offset="0.4882" stop-color="#f00" stop-opacity="0.225"/><stop offset="0.4918" stop-color="#f00" stop-opacity="0.234"/><stop offset="0.4947" stop-color="#f00" stop-opacity="0.241"/><stop offset="0.4970" stop-color="#f00" stop-opacity="0.246"/><stop offset="0.4987" stop-color="#f00" stop-opacity="0.251"/><stop offset="0.4997" stop-color="#f00" stop-opacity="0.253"/><stop offset="0.5000" stop-color="#f00" stop-opacity="0.254"/><stop offset="0.5003" stop-color="#f00" stop-opacity="0.253"/><stop offset="0.5013" stop-color="#f00" stop-opacity="0.251"/><stop offset="0.5030" stop-color="#f00" stop-opacity="0.246"/><stop offset="0.5053" stop-color="#f00" stop-opacity="0.241"/><stop offset="0.5082" stop-color="#f00" stop-opacity="0.234"/><stop offset="0.5118" stop-color="#f00" stop-opacity="0.225"/><stop offset="0.5161" stop-color="#f00" stop-opacity="0.216"/><stop offset="0.5210" stop-color="#f00" stop-opacity="0.205"/><stop offset="0.5266" stop-color="#f00" stop-opacity="0.194"/><stop offset="0.5329" stop-color="#f00" stop-opacity="0.182"/><stop offset="0.5398" stop-color="#f00" stop-opacity="0.170"/><stop offset="0.5473" stop-color="#f00" stop-opacity="0.158"/><stop offset="0.5556" stop-color="#f00" stop-opacity="0.145"/><stop offset="0.5644" stop-color="#f00" stop-opacity="0.133"/><stop offset="0.5740" stop-color="#f00" stop-opacity="0.121"/><stop offset="0.5842" stop-color="#f00" stop-opacity="0.109"/><stop offset="0.5950" stop-color="#f00" stop-opacity="0.098"/><stop offset="0.6065" stop-color="#f00" stop-opacity="0.087"/><stop offset="0.6187" stop-color="#f00" stop-opacity="0.078"/><stop offset="0.6315" stop-color="#f00" stop-opacity="0.069"/><stop offset="0.6450" stop-color="#f00" stop-opacity="0.060"/><stop offset="0.6591" stop-color="#f00" stop-opacity="0.053"/><stop offset="0.6739" stop-color="#f00" stop-opacity="0.046"/><stop offset="0.6893" stop-color="#f00" stop-opacity="0.040"/><stop offset="0.7055" stop-color="#f00" stop-opacity="0.034"/><stop offset="0.7222" stop-color="#f00" stop-opacity="0.029"/><stop offset="0.7396" stop-color="#f00" stop-opacity="0.025"/><stop offset="0.7577" stop-color="#f00" stop-opacity="0.022"/><stop offset="0.7765" stop-color="#f00" stop-opacity="0.018"/><stop offset="0.7959" stop-color="#f00" stop-opacity="0.016"/><stop offset="0.8159" stop-color="#f00" stop-opacity="0.014"/><stop offset="0.8366" stop-color="#f00" stop-opacity="0.012"/><stop offset="0.8580" stop-color="#f00" stop-opacity="0.010"/><stop offset="0.8800" stop-color="#f00" stop-opacity="0.009"/><stop offset="0.9027" stop-color="#f00" stop-opacity="0.008"/><stop offset="0.9260" stop-color="#f00" stop-opacity="0.007"/><stop offset="0.9500" stop-color="#f00" stop-opacity="0.006"/><stop offset="0.9747" stop-color="#f00" stop-opacity="0.006"/><stop offset="1.0000" stop-color="#f00" stop-opacity="0.005"/></linearGradient><g clip-path="url(#c22)"><rect transform="translate(320.90 157.80) rotate(45)" x="-73.5" y="-68.47" width="279.9" height="136.94" fill="url(#b23)"/></g><clipPath id="c24"><path d="M320.90 157.80 L349.57 157.80 L349.57 186.47 L320.90 186.47Z"/></clipPath><linearGradient id="b25" x1="0" y1="0" x2="0" y2="1"><stop offset="0.0000" stop-color="#f00" stop-opacity="0.000"/><stop offset="0.0253" stop-color="#f00" stop-opacity="0.000"/><stop offset="0.0500" stop-color="#f00" stop-opacity="0.000"/><stop offset="0.0740" stop-color="#f00" stop-opacity="0.000"/><stop offset="0.0973" stop-color="#f00" stop-opacity="0.000"/><stop offset="0.1200" stop-color="#f00" stop-opacity="0.000"/><stop offset="0.1420" stop-color="#f00" stop-opacity="0.000"/><stop offset="0.1634" stop-color="#f00" stop-opacity="0.000"/><stop offset="0.1841" stop-color="#f00" stop-opacity="0.000"/><stop offset="0.2041" stop-color="#f00" stop-opacity="0.000"/><stop offset="0.2235" stop-color="#f00" stop-opacity="0.000"/><stop offset="0.2423" stop-color="#f00" stop-opacity="0.000"/><stop offset="0.2604" stop-color="#f00" stop-opacity="0.000"/><stop offset="0.2778" stop-color="#f00" stop-opacity="0.000"/><stop offset="0.2945" stop-color="#f00" stop-opacity="0.000"/><stop offset="0.3107" stop-color="#f00" stop-opacity="0.000"/><stop offset="0.3261" stop-color="#f00" stop-opacity="0.000"/><stop offset="0.3409" stop-color="#f00" stop-opacity="0.061"/><stop offset="0.3550" stop-color="#f00" stop-opacity="0.207"/><stop offset="0.3685" stop-color="#f00" stop-opacity="0.346"/><stop offset="0.3813" stop-color="#f00" stop-opacity="0.478"/><stop offset="0.3935" stop-color="#f00" stop-opacity="0.603"/><stop offset="0.4050" stop-color="#f00" stop-opacity="0.721"/><stop offset="0.4158" stop-color="#f00" stop-opacity="0.833"/><stop offset="0.4260" stop-color="#f00" stop-opacity="0.938"/><stop offset="0.4356" stop-color="#f00" stop-opacity="1.000"/><stop offset="0.4444" stop-color="#f00" stop-opacity="1.000"/><stop offset="0.4527" stop-color="#f00" stop-opacity="1.000"/><stop offset="0.4602" stop-color="#f00" stop-opacity="1.000"/><stop offset="0.4671" stop-color="#f00" stop-opacity="1.000"/><stop offset="0.4734" stop-color="#f00" stop-opacity="1.000"/><stop offset="0.4790" stop-color="#f00" stop-opacity="1.000"/><stop offset="0.4839" stop-color="#f00" stop-opacity="1.000"/><stop offset="0.4882" stop-color="#f00" stop-opacity="1.000"/><stop offset="0.4918" stop-color="#f00" stop-opacity="1.000"/><stop offset="0.4947" stop-color="#f00" stop-opacity="1.000"/><stop offset="0.4970" stop-color="#f00" stop-opacity="1.000"/><stop offset="0.4987" stop-color="#f00" stop-opacity="1.000"/><stop offset="0.4997" stop-color="#f00" stop-opacity="1.000"/><stop offset="0.5000" stop-color="#f00" stop-opacity="1.000"/><stop offset="0.5003" stop-color="#f00" stop-opacity="1.000"/><stop offset="0.5013" stop-color="#f00" stop-opacity="1.000"/><stop offset="0.5030" stop-color="#f00" stop-opacity="1.000"/><stop offset="0.5053" stop-color="#f00" stop-opacity="1.000"/><stop offset="0.5082" stop-color="#f00" stop-opacity="1.000"/><stop offset="0.5118" stop-color="#f00" stop-opacity="1.000"/><stop offset="0.5161" stop-color="#f00" stop-opacity="1.000"/><stop offset="0.5210" stop-color="#f00" stop-opacity="1.000"/><stop offset="0.5266" stop-color="#f00" stop-opacity="1.000"/><stop offset="0.5329" stop-color="#f00" stop-opacity="1.000"/><stop offset="0.5398" stop-color="#f00" stop-opacity="1.000"/><stop offset="0.5473" stop-color="#f00" stop-opacity="1.000"/><stop offset="0.5556" stop-color="#f00" stop-opacity="1.000"/><stop offset="0.5644" stop-color="#f00" stop-opacity="1.000"/><stop offset="0.5740" stop-color="#f00" stop-opacity="0.938"/><stop offset="0.5842" stop-color="#f00" stop-opacity="0.833"/><stop offset="0.5950" stop-color="#f00" stop-opacity="0.721"/><stop offset="0.6065" stop-color="#f00" stop-opacity="0.603"/><stop offset="0.6187" stop-color="#f00" stop-opacity="0.478"/><stop offset="0.6315" stop-color="#f00" stop-opacity="0.346"/><stop offset="0.6450" stop-color="#f00" stop-opacity="0.207"/><stop offset="0.6591" stop-color="#f00" stop-opacity="0.061"/><stop offset="0.6739" stop-color="#f00" stop-opacity="0.000"/><stop offset="0.6893" stop-color="#f00" stop-opacity="0.000"/><stop offset="0.7055" stop-color="#f00" stop-opacity="0.000"/><stop offset="0.7222" stop-color="#f00" stop-opacity="0.000"/><stop offset="0.7396" stop-color="#f00" stop-opacity="0.000"/><stop offset="0.7577" stop-color="#f00" stop-opacity="0.000"/><stop offset="0.7765" stop-color="#f00" stop-opacity="0.000"/><stop offset="0.7959" stop-color="#f00" stop-opacity="0.000"/><stop offset="0.8159" stop-color="#f00" stop-opacity="0.000"/><stop offset="0.8366" stop-color="#f00" stop-opacity="0.000"/><stop offset="0.8580" stop-color="#f00" stop-opacity="0.000"/><stop offset="0.8800" stop-color="#f00" stop-opacity="0.000"/><stop offset="0.9027" stop-color="#f00" stop-opacity="0.000"/><stop offset="0.9260" stop-color="#f00" stop-opacity="0.000"/><stop offset="0.9500" stop-color="#f00" stop-opacity="0.000"/><stop offset="0.9747" stop-color="#f00" stop-opacity="0.000"/><stop offset="1.0000" stop-color="#f00" stop-opacity="0.000"/></linearGradient><g clip-path="url(#c24)"><rect transform="translate(320.90 157.80) rotate(45)" x="-73.5" y="-68.47" width="279.9" height="136.94" fill="url(#b25)"/></g><clipPath id="c26"><path d="M349.57 186.47 L414.90 186.47 L414.90 251.80 L349.57 251.80Z"/></clipPath><linearGradient id="b27" x1="0" y1="0" x2="0" y2="1"><stop offset="0.0000" stop-color="#f00" stop-opacity="0.029"/><stop offset="0.0253" stop-color="#f00" stop-opacity="0.033"/><stop offset="0.0500" stop-color="#f00" stop-opacity="0.037"/><stop offset="0.0740" stop-color="#f00" stop-opacity="0.042"/><stop offset="0.0973" stop-color="#f00" stop-opacity="0.047"/><stop offset="0.1200" stop-color="#f00" stop-opacity="0.053"/><stop offset="0.1420" stop-color="#f00" stop-opacity="0.060"/><stop offset="0.1634" stop-color="#f00" stop-opacity="0.067"/><stop offset="0.1841" stop-color="#f00" stop-opacity="0.075"/><stop offset="0.2041" stop-color="#f00" stop-opacity="0.084"/><stop offset="0.2235" stop-color="#f00" stop-opacity="0.093"/><stop offset="0.2423" stop-color="#f00" stop-opacity="0.104"/><stop offset="0.2604" stop-color="#f00" stop-opacity="0.117"/><stop offset="0.2778" stop-color="#f00" stop-opacity="0.133"/><stop offset="0.2945" stop-color="#f00" stop-opacity="0.153"/><stop offset="0.3107" stop-color="#f00" stop-opacity="0.182"/><stop offset="0.3261" stop-color="#f00" stop-opacity="0.221"/><stop offset="0.3409" stop-color="#f00" stop-opacity="0.274"/><stop offset="0.3550" stop-color="#f00" stop-opacity="0.344"/><stop offset="0.3685" stop-color="#f00" stop-opacity="0.432"/><stop offset="0.3813" stop-color="#f00" stop-opacity="0.539"/><stop offset="0.3935" stop-color="#f00" stop-opacity="0.661"/><stop offset="0.4050" stop-color="#f00" stop-opacity="0.795"/><stop offset="0.4158" stop-color="#f00" stop-opacity="0.935"/><stop offset="0.4260" stop-color="#f00" stop-opacity="1.000"/><stop offset="0.4356" stop-color="#f00" stop-opacity="1.000"/><stop offset="0.4444" stop-color="#f00" stop-opacity="1.000"/><stop offset="0.4527" stop-color="#f00" stop-opacity="1.000"/><stop offset="0.4602" stop-color="#f00" stop-opacity="1.000"/><stop offset="0.4671" stop-color="#f00" stop-opacity="1.000"/><stop offset="0.4734" stop-color="#f00" stop-opacity="1.000"/><stop offset="0.4790" stop-color="#f00" stop-opacity="1.000"/><stop offset="0.4839" stop-color="#f00" stop-opacity="1.000"/><stop offset="0.4882" stop-color="#f00" stop-opacity="1.000"/><stop offset="0.4918" stop-color="#f00" stop-opacity="1.000"/><stop offset="0.4947" stop-color="#f00" stop-opacity="1.000"/><stop offset="0.4970" stop-color="#f00" stop-opacity="1.000"/><stop offset="0.4987" stop-color="#f00" stop-opacity="1.000"/><stop offset="0.4997" stop-color="#f00" stop-opacity="1.000"/><stop offset="0.5000" stop-color="#f00" stop-opacity="1.000"/><stop offset="0.5003" stop-color="#f00" stop-opacity="1.000"/><stop offset="0.5013" stop-color="#f00" stop-opacity="1.000"/><stop offset="0.5030" stop-color="#f00" stop-opacity="1.000"/><stop offset="0.5053" stop-color="#f00" stop-opacity="1.000"/><stop offset="0.5082" stop-color="#f00" stop-opacity="1.000"/><stop offset="0.5118" stop-color="#f00" stop-opacity="1.000"/><stop offset="0.5161" stop-color="#f00" stop-opacity="1.000"/><stop offset="0.5210" stop-color="#f00" stop-opacity="1.000"/><stop offset="0.5266" stop-color="#f00" stop-opacity="1.000"/><stop offset="0.5329" stop-color="#f00" stop-opacity="1.000"/><stop offset="0.5398" stop-color="#f00" stop-opacity="1.000"/><stop offset="0.5473" stop-color="#f00" stop-opacity="1.000"/><stop offset="0.5556" stop-color="#f00" stop-opacity="1.000"/><stop offset="0.5644" stop-color="#f00" stop-opacity="1.000"/><stop offset="0.5740" stop-color="#f00" stop-opacity="1.000"/><stop offset="0.5842" stop-color="#f00" stop-opacity="0.935"/><stop offset="0.5950" stop-color="#f00" stop-opacity="0.795"/><stop offset="0.6065" stop-color="#f00" stop-opacity="0.661"/><stop offset="0.6187" stop-color="#f00" stop-opacity="0.539"/><stop offset="0.6315" stop-color="#f00" stop-opacity="0.432"/><stop offset="0.6450" stop-color="#f00" stop-opacity="0.344"/><stop offset="0.6591" stop-color="#f00" stop-opacity="0.274"/><stop offset="0.6739" stop-color="#f00" stop-opacity="0.221"/><stop offset="0.6893" stop-color="#f00" stop-opacity="0.182"/><stop offset="0.7055" stop-color="#f00" stop-opacity="0.153"/><stop offset="0.7222" stop-color="#f00" stop-opacity="0.133"/><stop offset="0.7396" stop-color="#f00" stop-opacity="0.117"/><stop offset="0.7577" stop-color="#f00" stop-opacity="0.104"/><stop offset="0.7765" stop-color="#f00" stop-opacity="0.093"/><stop offset="0.7959" stop-color="#f00" stop-opacity="0.084"/><stop offset="0.8159" stop-color="#f00" stop-opacity="0.075"/><stop offset="0.8366" stop-color="#f00" stop-opacity="0.067"/><stop offset="0.8580" stop-color="#f00" stop-opacity="0.060"/><stop offset="0.8800" stop-color="#f00" stop-opacity="0.053"/><stop offset="0.9027" stop-color="#f00" stop-opacity="0.047"/><stop offset="0.9260" stop-color="#f00" stop-opacity="0.042"/><stop offset="0.9500" stop-color="#f00" stop-opacity="0.037"/><stop offset="0.9747" stop-color="#f00" stop-opacity="0.033"/><stop offset="1.0000" stop-color="#f00" stop-opacity="0.029"/></linearGradient><g clip-path="url(#c26)"><rect transform="translate(320.90 157.80) rotate(45)" x="-73.5" y="-68.47" width="279.9" height="136.94" fill="url(#b27)"/></g><clipPath id="c28"><path d="M349.57 186.47 L374.48 186.47 L374.48 211.38 L349.57 211.38Z"/></clipPath><linearGradient id="b29" x1="0" y1="0" x2="0" y2="1"><stop offset="0.0000" stop-color="#f00" stop-opacity="0.000"/><stop offset="0.0253" stop-color="#f00" stop-opacity="0.000"/><stop offset="0.0500" stop-color="#f00" stop-opacity="0.000"/><stop offset="0.0740" stop-color="#f00" stop-opacity="0.000"/><stop offset="0.0973" stop-color="#f00" stop-opacity="0.000"/><stop offset="0.1200" stop-color="#f00" stop-opacity="0.000"/><stop offset="0.1420" stop-color="#f00" stop-opacity="0.000"/><stop offset="0.1634" stop-color="#f00" stop-opacity="0.000"/><stop offset="0.1841" stop-color="#f00" stop-opacity="0.073"/><stop offset="0.2041" stop-color="#f00" stop-opacity="0.176"/><stop offset="0.2235" stop-color="#f00" stop-opacity="0.276"/><stop offset="0.2423" stop-color="#f00" stop-opacity="0.373"/><stop offset="0.2604" stop-color="#f00" stop-opacity="0.466"/><stop offset="0.2778" stop-color="#f00" stop-opacity="0.555"/><stop offset="0.2945" stop-color="#f00" stop-opacity="0.642"/><stop offset="0.3107" stop-color="#f00" stop-opacity="0.725"/><stop offset="0.3261" stop-color="#f00" stop-opacity="0.804"/><stop offset="0.3409" stop-color="#f00" stop-opacity="0.881"/><stop offset="0.3550" stop-color="#f00" stop-opacity="0.953"/><stop offset="0.3685" stop-color="#f00" stop-opacity="1.000"/><stop offset="0.3813" stop-color="#f00" stop-opacity="1.000"/><stop offset="0.3935" stop-color="#f00" stop-opacity="1.000"/><stop offset="0.4050" stop-color="#f00" stop-opacity="1.000"/><stop offset="0.4158" stop-color="#f00" stop-opacity="1.000"/><stop offset="0.4260" stop-color="#f00" stop-opacity="1.000"/><stop offset="0.4356" stop-color="#f00" stop-opacity="1.000"/><stop offset="0.4444" stop-color="#f00" stop-opacity="1.000"/><stop offset="0.4527" stop-color="#f00" stop-opacity="1.000"/><stop offset="0.4602" stop-color="#f00" stop-opacity="1.000"/><stop offset="0.4671" stop-color="#f00" stop-opacity="1.000"/><stop offset="0.4734" stop-color="#f00" stop-opacity="1.000"/><stop offset="0.4790" stop-color="#f00" stop-opacity="1.000"/><stop offset="0.4839" stop-color="#f00" stop-opacity="1.000"/><stop offset="0.4882" stop-color="#f00" stop-opacity="1.000"/><stop offset="0.4918" stop-color="#f00" stop-opacity="1.000"/><stop offset="0.4947" stop-color="#f00" stop-opacity="1.000"/><stop offset="0.4970" stop-color="#f00" stop-opacity="1.000"/><stop offset="0.4987" stop-color="#f00" stop-opacity="1.000"/><stop offset="0.4997" stop-color="#f00" stop-opacity="1.000"/><stop offset="0.5000" stop-color="#f00" stop-opacity="1.000"/><stop offset="0.5003" stop-color="#f00" stop-opacity="1.000"/><stop offset="0.5013" stop-color="#f00" stop-opacity="1.000"/><stop offset="0.5030" stop-color="#f00" stop-opacity="1.000"/><stop offset="0.5053" stop-color="#f00" stop-opacity="1.000"/><stop offset="0.5082" stop-color="#f00" stop-opacity="1.000"/><stop offset="0.5118" stop-color="#f00" stop-opacity="1.000"/><stop offset="0.5161" stop-color="#f00" stop-opacity="1.000"/><stop offset="0.5210" stop-color="#f00" stop-opacity="1.000"/><stop offset="0.5266" stop-color="#f00" stop-opacity="1.000"/><stop offset="0.5329" stop-color="#f00" stop-opacity="1.000"/><stop offset="0.5398" stop-color="#f00" stop-opacity="1.000"/><stop offset="0.5473" stop-color="#f00" stop-opacity="1.000"/><stop offset="0.5556" stop-color="#f00" stop-opacity="1.000"/><stop offset="0.5644" stop-color="#f00" stop-opacity="1.000"/><stop offset="0.5740" stop-color="#f00" stop-opacity="1.000"/><stop offset="0.5842" stop-color="#f00" stop-opacity="1.000"/><stop offset="0.5950" stop-color="#f00" stop-opacity="1.000"/><stop offset="0.6065" stop-color="#f00" stop-opacity="1.000"/><stop offset="0.6187" stop-color="#f00" stop-opacity="1.000"/><stop offset="0.6315" stop-color="#f00" stop-opacity="1.000"/><stop offset="0.6450" stop-color="#f00" stop-opacity="0.953"/><stop offset="0.6591" stop-color="#f00" stop-opacity="0.881"/><stop offset="0.6739" stop-color="#f00" stop-opacity="0.804"/><stop offset="0.6893" stop-color="#f00" stop-opacity="0.725"/><stop offset="0.7055" stop-color="#f00" stop-opacity="0.642"/><stop offset="0.7222" stop-color="#f00" stop-opacity="0.555"/><stop offset="0.7396" stop-color="#f00" stop-opacity="0.466"/><stop offset="0.7577" stop-color="#f00" stop-opacity="0.373"/><stop offset="0.7765" stop-color="#f00" stop-opacity="0.276"/><stop offset="0.7959" stop-color="#f00" stop-opacity="0.176"/><stop offset="0.8159" stop-color="#f00" stop-opacity="0.073"/><stop offset="0.8366" stop-color="#f00" stop-opacity="0.000"/><stop offset="0.8580" stop-color="#f00" stop-opacity="0.000"/><stop offset="0.8800" stop-color="#f00" stop-opacity="0.000"/><stop offset="0.9027" stop-color="#f00" stop-opacity="0.000"/><stop offset="0.9260" stop-color="#f00" stop-opacity="0.000"/><stop offset="0.9500" stop-color="#f00" stop-opacity="0.000"/><stop offset="0.9747" stop-color="#f00" stop-opacity="0.000"/><stop offset="1.0000" stop-color="#f00" stop-opacity="0.000"/></linearGradient><g clip-path="url(#c28)"><rect transform="translate(320.90 157.80) rotate(45)" x="-73.5" y="-68.47" width="279.9" height="136.94" fill="url(#b29)"/></g><line x1="320.90" y1="157.80" x2="414.90" y2="251.80" stroke="#e09090" stroke-width="0.7"/><rect x="320.90" y="157.80" width="94.00" height="94.00" filter="url(#nzw)" opacity="0.8"/><rect x="320.90" y="157.80" width="94.00" height="94.00" filter="url(#nzr)" opacity="0.45"/><line x1="358.6" y1="157.8" x2="358.6" y2="251.6" stroke="#fff" stroke-opacity="0.3" stroke-width="0.8"/><line x1="361.2" y1="157.8" x2="361.2" y2="251.6" stroke="#fff" stroke-opacity="0.3" stroke-width="0.8"/><line x1="369.0" y1="157.8" x2="369.0" y2="251.6" stroke="#fff" stroke-opacity="0.3" stroke-width="0.8"/><line x1="320.9" y1="195.7" x2="414.8" y2="195.7" stroke="#fff" stroke-opacity="0.3" stroke-width="0.8"/><line x1="320.9" y1="206.6" x2="414.8" y2="206.6" stroke="#fff" stroke-opacity="0.3" stroke-width="0.8"/><text x="297.93" y="148.60" font-size="9.48" fill="#231f20" color="#231f20"><tspan>(Mb)</tspan></text><line x1="317.00" y1="157.80" x2="320.90" y2="157.80" stroke="#231f20" stroke-width="1.55"/><text x="301.29" y="160.80" font-size="9.00" fill="#231f20" color="#231f20"><tspan>0.7</tspan></text><line x1="317.00" y1="204.80" x2="320.90" y2="204.80" stroke="#231f20" stroke-width="1.55"/><text x="298.75" y="207.80" font-size="9.00" fill="#231f20" color="#231f20"><tspan>0.75</tspan></text><text x="301.25" y="254.60" font-size="9.00" fill="#231f20" color="#231f20"><tspan>0.8</tspan></text><path d="M317.0 251.9H320.6V255.8" fill="none" stroke="#231f20" stroke-width="1.55"/><text x="314.49" y="264.50" font-size="9.00" fill="#231f20" color="#231f20"><tspan>0.7</tspan></text><line x1="367.80" y1="251.60" x2="367.80" y2="255.80" stroke="#231f20" stroke-width="1.55"/><text x="359.05" y="264.50" font-size="9.00" fill="#231f20" color="#231f20"><tspan>0.75</tspan></text><line x1="414.80" y1="251.60" x2="414.80" y2="255.80" stroke="#231f20" stroke-width="1.55"/><text x="408.55" y="264.50" font-size="9.00" fill="#231f20" color="#231f20"><tspan>0.8</tspan></text><text x="323.71" y="249.60" font-size="9.19" fill="#231f20" color="#231f20"><tspan>1-kb res.</tspan></text><text x="390.49" y="202.60" font-size="8.91" fill="#231f20" color="#231f20"><tspan font-style="italic">dif2</tspan></text><line x1="391.30" y1="205.90" x2="384.52" y2="212.68" stroke="#231f20" stroke-width="1.2"/><path d="M381.90 215.30L383.38 210.85L386.35 213.82Z" fill="#231f20"/><text x="325.74" y="278.30" font-size="9.28" fill="#231f20" color="#231f20"><tspan>Contact freq.</tspan></text><rect x="383.8" y="275.6" width="23.19999999999999" height="4.199999999999989" fill="url(#cb)" stroke="#000" stroke-width="1.2"/><line x1="383.80" y1="279.80" x2="383.80" y2="282.60" stroke="#000" stroke-width="1.2"/><line x1="407.00" y1="279.80" x2="407.00" y2="282.60" stroke="#000" stroke-width="1.2"/><text x="381.48" y="292.00" font-size="9.00" fill="#231f20" color="#231f20"><tspan>0</tspan></text><text x="404.10" y="292.00" font-size="9.00" fill="#231f20" color="#231f20"><tspan>5</tspan></text><text x="441.23" y="146.80" font-size="14.20" fill="#231f20" color="#231f20"><tspan font-weight="bold">e</tspan></text><text x="533.51" y="150.00" font-size="9.93" fill="#231f20" color="#231f20"><tspan>[</tspan><tspan font-style="italic">dif1</tspan><tspan>]</tspan></text><text x="573.67" y="150.10" font-size="9.42" fill="#231f20" color="#231f20"><tspan font-style="italic">dif2</tspan></text><clipPath id="ce"><rect x="483" y="158" width="201.2" height="96"/></clipPath><path d="M483.7 176.6 L484.9 185.8 L486.0 181.0 L487.7 177.0 L488.9 179.0 L490.6 182.4 L492.3 183.5 L493.5 184.7 L494.6 187.6 L495.8 186.4 L497.5 187.0 L498.1 184.1 L499.2 175.5 L500.4 180.7 L501.7 202.5 L502.7 194.4 L504.0 174.4 L505.0 181.8 L505.8 176.0 L506.7 183.0 L507.8 191.0 L509.3 199.0 L510.5 191.0 L511.9 180.7 L513.0 179.5 L514.2 176.0 L515.3 181.8 L516.4 186.4 L518.5 203.6 L519.9 197.9 L521.0 189.9 L522.8 187.0 L525.1 177.2 L526.8 181.8 L527.9 180.7 L529.6 177.0 L530.8 183.0 L531.9 184.7 L533.1 184.7 L534.2 191.0 L535.0 193.3 L536.0 204.0 L537.4 197.9 L539.5 188.1 L540.6 194.4 L541.8 184.1 L542.9 180.7 L544.1 183.0 L545.2 184.1 L546.4 187.0 L547.5 182.4 L549.2 174.4 L550.4 176.1 L551.5 179.5 L552.7 181.8 L554.4 176.1 L556.1 177.2 L557.8 178.9 L559.0 179.5 L560.1 177.8 L561.3 182.4 L562.4 178.4 L563.6 181.2 L565.3 182.4 L566.4 191.6 L567.6 179.5 L569.3 170.9 L571.0 172.6 L572.2 174.9 L573.3 181.2 L575.0 191.0 L576.2 203.6 L576.9 242.6 L577.8 214.0 L578.6 182.0 L579.5 195.0 L580.7 214.8 L581.9 199.0 L583.0 184.1 L583.9 186.4 L585.3 177.2 L587.0 181.8 L588.2 178.4 L589.3 176.1 L590.5 169.2 L592.0 164.6 L593.3 168.0 L594.5 176.1 L595.6 187.6 L597.0 193.9 L598.5 181.8 L600.8 173.8 L602.0 178.4 L603.1 188.7 L604.2 197.3 L605.4 177.2 L607.1 170.9 L608.3 173.8 L609.4 178.9 L611.1 180.7 L612.3 183.0 L613.4 189.9 L614.6 193.9 L615.7 183.0 L617.4 169.8 L618.6 174.9 L619.7 183.0 L620.9 184.1 L622.6 191.0 L624.3 204.2 L625.7 194.4 L627.2 176.1 L628.0 173.8 L628.9 177.2 L630.1 183.0 L631.2 186.4 L633.0 177.8 L634.0 179.0 L635.5 185.8 L636.5 189.0 L637.5 199.6 L638.3 189.9 L639.2 179.5 L640.3 186.4 L641.5 183.5 L642.9 187.6 L644.4 183.0 L645.5 184.7 L646.6 181.2 L647.8 177.8 L648.9 183.0 L650.4 188.7 L651.6 203.1 L653.0 193.3 L654.7 184.1 L655.5 188.7 L656.6 196.7 L658.1 186.4 L659.9 184.1 L661.6 180.1 L663.3 177.2 L663.9 173.8 L666.2 173.8 L667.3 178.4 L668.5 186.4 L669.6 192.2 L670.8 184.7 L671.9 184.7 L672.7 190.4 L673.6 179.5 L674.8 173.8 L675.9 174.9 L677.1 183.0 L678.2 199.0 L679.6 210.5 L680.5 195.6 L681.7 183.0 L683.4 177.2 L684.0 176.5" fill="none" stroke="#1e2a8a" stroke-width="1.7" stroke-linejoin="round" clip-path="url(#ce)"/><rect x="483.0" y="160.3" width="201.2" height="93.3" fill="none" stroke="#000" stroke-width="1.3"/><line x1="478.40" y1="160.30" x2="483.00" y2="160.30" stroke="#000" stroke-width="1.2"/><text x="463.39" y="163.30" font-size="9.20" fill="#231f20" color="#231f20"><tspan>0.4</tspan></text><line x1="478.40" y1="183.70" x2="483.00" y2="183.70" stroke="#000" stroke-width="1.2"/><text x="471.12" y="186.70" font-size="9.20" fill="#231f20" color="#231f20"><tspan>0</tspan></text><line x1="478.40" y1="206.90" x2="483.00" y2="206.90" stroke="#000" stroke-width="1.2"/><text x="458.01" y="209.90" font-size="9.20" fill="#231f20" color="#231f20"><tspan>−0.4</tspan></text><line x1="478.40" y1="230.30" x2="483.00" y2="230.30" stroke="#000" stroke-width="1.2"/><text x="458.10" y="233.30" font-size="9.20" fill="#231f20" color="#231f20"><tspan>−0.8</tspan></text><line x1="478.40" y1="253.60" x2="483.00" y2="253.60" stroke="#000" stroke-width="1.2"/><text x="458.19" y="256.60" font-size="9.20" fill="#231f20" color="#231f20"><tspan>−1.2</tspan></text><line x1="482.80" y1="253.60" x2="482.80" y2="257.80" stroke="#000" stroke-width="1.2"/><text x="480.22" y="267.50" font-size="9.20" fill="#231f20" color="#231f20"><tspan>0</tspan></text><line x1="547.30" y1="253.60" x2="547.30" y2="257.80" stroke="#000" stroke-width="1.2"/><text x="540.91" y="267.50" font-size="9.20" fill="#231f20" color="#231f20"><tspan>0.5</tspan></text><line x1="611.90" y1="253.60" x2="611.90" y2="257.80" stroke="#000" stroke-width="1.2"/><text x="609.21" y="267.50" font-size="9.20" fill="#231f20" color="#231f20"><tspan>1</tspan></text><line x1="676.40" y1="253.60" x2="676.40" y2="257.80" stroke="#000" stroke-width="1.2"/><text x="669.85" y="267.50" font-size="9.20" fill="#231f20" color="#231f20"><tspan>1.5</tspan></text><text transform="translate(448.30,206.90) rotate(-90)" text-anchor="middle" font-size="9.6" fill="#231f20">Insulation score</text><text x="496.61" y="278.70" font-size="9.78" fill="#231f20" color="#231f20"><tspan>Genomic position in </tspan><tspan font-style="italic">T. acidophilum</tspan><tspan> (Mb)</tspan></text><line x1="544.10" y1="155.10" x2="544.10" y2="170.80" stroke="#ee1c25" stroke-width="1.4"/><path d="M540.10 170.30L548.10 170.30L544.10 179.60Z" fill="#ee1c25"/><line x1="581.10" y1="155.10" x2="581.10" y2="173.90" stroke="#ee1c25" stroke-width="1.4"/><path d="M577.10 173.40L585.10 173.40L581.10 182.80Z" fill="#ee1c25"/><text x="36.88" y="321.00" font-size="14.60" fill="#231f20" color="#231f20"><tspan font-weight="bold">f</tspan></text><text x="67.31" y="344.50" font-size="9.71" fill="#231f20" color="#231f20"><tspan font-style="italic">Haloferax volcanii</tspan></text><text x="62.31" y="355.20" font-size="9.77" fill="#231f20" color="#231f20"><tspan>(main chromosome)</tspan></text><text x="157.44" y="361.70" font-size="9.27" fill="#231f20" color="#231f20"><tspan>(Mb)</tspan></text><text x="48.05" y="374.00" font-size="8.73" fill="#231f20" color="#231f20"><tspan>1.484</tspan></text><text x="102.35" y="374.00" font-size="8.64" fill="#231f20" color="#231f20"><tspan>1.486</tspan></text><text x="156.56" y="374.00" font-size="8.60" fill="#231f20" color="#231f20"><tspan>1.488</tspan></text><line x1="45.30" y1="379.40" x2="167.60" y2="379.40" stroke="#231f20" stroke-width="1.55"/><line x1="59.00" y1="377.20" x2="59.00" y2="381.90" stroke="#231f20" stroke-width="1.45"/><line x1="86.00" y1="377.20" x2="86.00" y2="381.90" stroke="#231f20" stroke-width="1.45"/><line x1="112.90" y1="377.20" x2="112.90" y2="381.90" stroke="#231f20" stroke-width="1.45"/><line x1="140.10" y1="377.20" x2="140.10" y2="381.90" stroke="#231f20" stroke-width="1.45"/><line x1="167.10" y1="377.20" x2="167.10" y2="381.90" stroke="#231f20" stroke-width="1.45"/><text x="46.84" y="392.30" font-size="8.83" fill="#231f20" color="#231f20"><tspan font-style="italic">HVO_1616</tspan></text><text x="110.94" y="392.30" font-size="8.80" fill="#231f20" color="#231f20"><tspan font-style="italic">HVO_1619</tspan></text><path d="M70.90 396.90H85.00L88.60 399.60L85.00 402.30H70.90Z" fill="#dcdddd" stroke="#231f20" stroke-width="1.45"/><path d="M88.6 396.9L94.7 399.6L88.6 402.3Z" fill="none" stroke="#231f20" stroke-width="1.45"/><path d="M98.8 397.2L104.5 399.9L98.8 402.6Z" fill="none" stroke="#231f20" stroke-width="1.45"/><path d="M67.20 408.40H50.30L46.90 411.15L50.30 413.90H67.20Z" fill="#dcdddd" stroke="#231f20" stroke-width="1.45"/><text x="34.23" y="423.30" font-size="8.86" fill="#231f20" color="#231f20"><tspan font-style="italic">HVO_1615</tspan></text><path d="M126.6 396.9H134.6L137.4 399.6L134.6 402.3H126.6Z" fill="#66c8f5" stroke="#231f20" stroke-width="1.45"/><path d="M137.4 399.6L134.6 396.9H162.9L166.4 399.6L162.9 402.3H134.6Z" fill="#66c8f5" stroke="#231f20" stroke-width="1.45"/><text x="131.24" y="412.40" font-size="8.80" fill="#231f20" color="#231f20"><tspan font-style="italic">HVO_1620</tspan></text><text x="122.87" y="423.00" font-size="8.83" fill="#231f20" color="#231f20"><tspan>(</tspan><tspan font-style="italic">xerA</tspan><tspan> homolog)</tspan></text><path d="M122.10 437.60H127.90L125.00 431.60Z" fill="#ee1c25"/><text x="78.85" y="446.90" font-size="9.34" fill="#231f20" color="#231f20"><tspan>Putative </tspan><tspan font-style="italic">dif</tspan><tspan> (1486426)</tspan></text><text x="191.41" y="323.40" font-size="9.79" fill="#231f20" color="#231f20"><tspan>(Mb)</tspan></text><clipPath id="c30"><rect x="216.30" y="335.90" width="104.40" height="104.40"/></clipPath><rect x="216.30" y="335.90" width="104.40" height="104.40" fill="rgb(255,255,255)"/><clipPath id="c31"><path d="M216.30 335.90 L216.30 440.30 L320.70 440.30Z"/></clipPath><linearGradient id="b32" x1="0" y1="0" x2="0" y2="1"><stop offset="0.0000" stop-color="#f00" stop-opacity="0.010"/><stop offset="0.0253" stop-color="#f00" stop-opacity="0.011"/><stop offset="0.0500" stop-color="#f00" stop-opacity="0.011"/><stop offset="0.0740" stop-color="#f00" stop-opacity="0.011"/><stop offset="0.0973" stop-color="#f00" stop-opacity="0.011"/><stop offset="0.1200" stop-color="#f00" stop-opacity="0.012"/><stop offset="0.1420" stop-color="#f00" stop-opacity="0.012"/><stop offset="0.1634" stop-color="#f00" stop-opacity="0.013"/><stop offset="0.1841" stop-color="#f00" stop-opacity="0.014"/><stop offset="0.2041" stop-color="#f00" stop-opacity="0.014"/><stop offset="0.2235" stop-color="#f00" stop-opacity="0.016"/><stop offset="0.2423" stop-color="#f00" stop-opacity="0.017"/><stop offset="0.2604" stop-color="#f00" stop-opacity="0.019"/><stop offset="0.2778" stop-color="#f00" stop-opacity="0.021"/><stop offset="0.2945" stop-color="#f00" stop-opacity="0.023"/><stop offset="0.3107" stop-color="#f00" stop-opacity="0.026"/><stop offset="0.3261" stop-color="#f00" stop-opacity="0.030"/><stop offset="0.3409" stop-color="#f00" stop-opacity="0.034"/><stop offset="0.3550" stop-color="#f00" stop-opacity="0.038"/><stop offset="0.3685" stop-color="#f00" stop-opacity="0.044"/><stop offset="0.3813" stop-color="#f00" stop-opacity="0.050"/><stop offset="0.3935" stop-color="#f00" stop-opacity="0.058"/><stop offset="0.4050" stop-color="#f00" stop-opacity="0.067"/><stop offset="0.4158" stop-color="#f00" stop-opacity="0.079"/><stop offset="0.4260" stop-color="#f00" stop-opacity="0.093"/><stop offset="0.4356" stop-color="#f00" stop-opacity="0.110"/><stop offset="0.4444" stop-color="#f00" stop-opacity="0.131"/><stop offset="0.4527" stop-color="#f00" stop-opacity="0.158"/><stop offset="0.4602" stop-color="#f00" stop-opacity="0.190"/><stop offset="0.4671" stop-color="#f00" stop-opacity="0.229"/><stop offset="0.4734" stop-color="#f00" stop-opacity="0.274"/><stop offset="0.4790" stop-color="#f00" stop-opacity="0.325"/><stop offset="0.4839" stop-color="#f00" stop-opacity="0.381"/><stop offset="0.4882" stop-color="#f00" stop-opacity="0.440"/><stop offset="0.4918" stop-color="#f00" stop-opacity="0.498"/><stop offset="0.4947" stop-color="#f00" stop-opacity="0.553"/><stop offset="0.4970" stop-color="#f00" stop-opacity="0.601"/><stop offset="0.4987" stop-color="#f00" stop-opacity="0.638"/><stop offset="0.4997" stop-color="#f00" stop-opacity="0.662"/><stop offset="0.5000" stop-color="#f00" stop-opacity="0.670"/><stop offset="0.5003" stop-color="#f00" stop-opacity="0.662"/><stop offset="0.5013" stop-color="#f00" stop-opacity="0.638"/><stop offset="0.5030" stop-color="#f00" stop-opacity="0.601"/><stop offset="0.5053" stop-color="#f00" stop-opacity="0.553"/><stop offset="0.5082" stop-color="#f00" stop-opacity="0.498"/><stop offset="0.5118" stop-color="#f00" stop-opacity="0.440"/><stop offset="0.5161" stop-color="#f00" stop-opacity="0.381"/><stop offset="0.5210" stop-color="#f00" stop-opacity="0.325"/><stop offset="0.5266" stop-color="#f00" stop-opacity="0.274"/><stop offset="0.5329" stop-color="#f00" stop-opacity="0.229"/><stop offset="0.5398" stop-color="#f00" stop-opacity="0.190"/><stop offset="0.5473" stop-color="#f00" stop-opacity="0.158"/><stop offset="0.5556" stop-color="#f00" stop-opacity="0.131"/><stop offset="0.5644" stop-color="#f00" stop-opacity="0.110"/><stop offset="0.5740" stop-color="#f00" stop-opacity="0.093"/><stop offset="0.5842" stop-color="#f00" stop-opacity="0.079"/><stop offset="0.5950" stop-color="#f00" stop-opacity="0.067"/><stop offset="0.6065" stop-color="#f00" stop-opacity="0.058"/><stop offset="0.6187" stop-color="#f00" stop-opacity="0.050"/><stop offset="0.6315" stop-color="#f00" stop-opacity="0.044"/><stop offset="0.6450" stop-color="#f00" stop-opacity="0.038"/><stop offset="0.6591" stop-color="#f00" stop-opacity="0.034"/><stop offset="0.6739" stop-color="#f00" stop-opacity="0.030"/><stop offset="0.6893" stop-color="#f00" stop-opacity="0.026"/><stop offset="0.7055" stop-color="#f00" stop-opacity="0.023"/><stop offset="0.7222" stop-color="#f00" stop-opacity="0.021"/><stop offset="0.7396" stop-color="#f00" stop-opacity="0.019"/><stop offset="0.7577" stop-color="#f00" stop-opacity="0.017"/><stop offset="0.7765" stop-color="#f00" stop-opacity="0.016"/><stop offset="0.7959" stop-color="#f00" stop-opacity="0.014"/><stop offset="0.8159" stop-color="#f00" stop-opacity="0.014"/><stop offset="0.8366" stop-color="#f00" stop-opacity="0.013"/><stop offset="0.8580" stop-color="#f00" stop-opacity="0.012"/><stop offset="0.8800" stop-color="#f00" stop-opacity="0.012"/><stop offset="0.9027" stop-color="#f00" stop-opacity="0.011"/><stop offset="0.9260" stop-color="#f00" stop-opacity="0.011"/><stop offset="0.9500" stop-color="#f00" stop-opacity="0.011"/><stop offset="0.9747" stop-color="#f00" stop-opacity="0.011"/><stop offset="1.0000" stop-color="#f00" stop-opacity="0.010"/></linearGradient><g clip-path="url(#c31)"><rect transform="translate(216.30 335.90) rotate(45)" x="-80.8" y="-75.82" width="309.3" height="151.64" fill="url(#b32)"/></g><clipPath id="c33"><path d="M216.30 335.90 L268.50 335.90 L268.50 388.10Z"/></clipPath><linearGradient id="b34" x1="0" y1="0" x2="0" y2="1"><stop offset="0.0000" stop-color="#f00" stop-opacity="0.061"/><stop offset="0.0253" stop-color="#f00" stop-opacity="0.061"/><stop offset="0.0500" stop-color="#f00" stop-opacity="0.061"/><stop offset="0.0740" stop-color="#f00" stop-opacity="0.062"/><stop offset="0.0973" stop-color="#f00" stop-opacity="0.062"/><stop offset="0.1200" stop-color="#f00" stop-opacity="0.063"/><stop offset="0.1420" stop-color="#f00" stop-opacity="0.064"/><stop offset="0.1634" stop-color="#f00" stop-opacity="0.065"/><stop offset="0.1841" stop-color="#f00" stop-opacity="0.066"/><stop offset="0.2041" stop-color="#f00" stop-opacity="0.067"/><stop offset="0.2235" stop-color="#f00" stop-opacity="0.069"/><stop offset="0.2423" stop-color="#f00" stop-opacity="0.071"/><stop offset="0.2604" stop-color="#f00" stop-opacity="0.073"/><stop offset="0.2778" stop-color="#f00" stop-opacity="0.075"/><stop offset="0.2945" stop-color="#f00" stop-opacity="0.078"/><stop offset="0.3107" stop-color="#f00" stop-opacity="0.082"/><stop offset="0.3261" stop-color="#f00" stop-opacity="0.085"/><stop offset="0.3409" stop-color="#f00" stop-opacity="0.090"/><stop offset="0.3550" stop-color="#f00" stop-opacity="0.095"/><stop offset="0.3685" stop-color="#f00" stop-opacity="0.100"/><stop offset="0.3813" stop-color="#f00" stop-opacity="0.107"/><stop offset="0.3935" stop-color="#f00" stop-opacity="0.114"/><stop offset="0.4050" stop-color="#f00" stop-opacity="0.123"/><stop offset="0.4158" stop-color="#f00" stop-opacity="0.134"/><stop offset="0.4260" stop-color="#f00" stop-opacity="0.147"/><stop offset="0.4356" stop-color="#f00" stop-opacity="0.164"/><stop offset="0.4444" stop-color="#f00" stop-opacity="0.184"/><stop offset="0.4527" stop-color="#f00" stop-opacity="0.210"/><stop offset="0.4602" stop-color="#f00" stop-opacity="0.241"/><stop offset="0.4671" stop-color="#f00" stop-opacity="0.279"/><stop offset="0.4734" stop-color="#f00" stop-opacity="0.322"/><stop offset="0.4790" stop-color="#f00" stop-opacity="0.372"/><stop offset="0.4839" stop-color="#f00" stop-opacity="0.427"/><stop offset="0.4882" stop-color="#f00" stop-opacity="0.484"/><stop offset="0.4918" stop-color="#f00" stop-opacity="0.541"/><stop offset="0.4947" stop-color="#f00" stop-opacity="0.595"/><stop offset="0.4970" stop-color="#f00" stop-opacity="0.642"/><stop offset="0.4987" stop-color="#f00" stop-opacity="0.679"/><stop offset="0.4997" stop-color="#f00" stop-opacity="0.702"/><stop offset="0.5000" stop-color="#f00" stop-opacity="0.710"/><stop offset="0.5003" stop-color="#f00" stop-opacity="0.702"/><stop offset="0.5013" stop-color="#f00" stop-opacity="0.679"/><stop offset="0.5030" stop-color="#f00" stop-opacity="0.642"/><stop offset="0.5053" stop-color="#f00" stop-opacity="0.595"/><stop offset="0.5082" stop-color="#f00" stop-opacity="0.541"/><stop offset="0.5118" stop-color="#f00" stop-opacity="0.484"/><stop offset="0.5161" stop-color="#f00" stop-opacity="0.427"/><stop offset="0.5210" stop-color="#f00" stop-opacity="0.372"/><stop offset="0.5266" stop-color="#f00" stop-opacity="0.322"/><stop offset="0.5329" stop-color="#f00" stop-opacity="0.279"/><stop offset="0.5398" stop-color="#f00" stop-opacity="0.241"/><stop offset="0.5473" stop-color="#f00" stop-opacity="0.210"/><stop offset="0.5556" stop-color="#f00" stop-opacity="0.184"/><stop offset="0.5644" stop-color="#f00" stop-opacity="0.164"/><stop offset="0.5740" stop-color="#f00" stop-opacity="0.147"/><stop offset="0.5842" stop-color="#f00" stop-opacity="0.134"/><stop offset="0.5950" stop-color="#f00" stop-opacity="0.123"/><stop offset="0.6065" stop-color="#f00" stop-opacity="0.114"/><stop offset="0.6187" stop-color="#f00" stop-opacity="0.107"/><stop offset="0.6315" stop-color="#f00" stop-opacity="0.100"/><stop offset="0.6450" stop-color="#f00" stop-opacity="0.095"/><stop offset="0.6591" stop-color="#f00" stop-opacity="0.090"/><stop offset="0.6739" stop-color="#f00" stop-opacity="0.085"/><stop offset="0.6893" stop-color="#f00" stop-opacity="0.082"/><stop offset="0.7055" stop-color="#f00" stop-opacity="0.078"/><stop offset="0.7222" stop-color="#f00" stop-opacity="0.075"/><stop offset="0.7396" stop-color="#f00" stop-opacity="0.073"/><stop offset="0.7577" stop-color="#f00" stop-opacity="0.071"/><stop offset="0.7765" stop-color="#f00" stop-opacity="0.069"/><stop offset="0.7959" stop-color="#f00" stop-opacity="0.067"/><stop offset="0.8159" stop-color="#f00" stop-opacity="0.066"/><stop offset="0.8366" stop-color="#f00" stop-opacity="0.065"/><stop offset="0.8580" stop-color="#f00" stop-opacity="0.064"/><stop offset="0.8800" stop-color="#f00" stop-opacity="0.063"/><stop offset="0.9027" stop-color="#f00" stop-opacity="0.062"/><stop offset="0.9260" stop-color="#f00" stop-opacity="0.062"/><stop offset="0.9500" stop-color="#f00" stop-opacity="0.061"/><stop offset="0.9747" stop-color="#f00" stop-opacity="0.061"/><stop offset="1.0000" stop-color="#f00" stop-opacity="0.061"/></linearGradient><g clip-path="url(#c33)"><rect transform="translate(216.30 335.90) rotate(45)" x="-80.8" y="-75.82" width="309.3" height="151.64" fill="url(#b34)"/></g><clipPath id="c35"><path d="M268.50 388.10 L320.70 388.10 L320.70 440.30Z"/></clipPath><g clip-path="url(#c35)"><rect transform="translate(216.30 335.90) rotate(45)" x="-80.8" y="-75.82" width="309.3" height="151.64" fill="url(#b34)"/></g><clipPath id="c36"><path d="M216.30 335.90 L226.74 335.90 L226.74 346.34 L216.30 346.34Z"/></clipPath><linearGradient id="b37" x1="0" y1="0" x2="0" y2="1"><stop offset="0.0000" stop-color="#f00" stop-opacity="0.000"/><stop offset="0.0644" stop-color="#f00" stop-opacity="0.000"/><stop offset="0.1244" stop-color="#f00" stop-opacity="0.000"/><stop offset="0.1800" stop-color="#f00" stop-opacity="0.000"/><stop offset="0.2311" stop-color="#f00" stop-opacity="0.000"/><stop offset="0.2778" stop-color="#f00" stop-opacity="0.001"/><stop offset="0.3200" stop-color="#f00" stop-opacity="0.002"/><stop offset="0.3578" stop-color="#f00" stop-opacity="0.006"/><stop offset="0.3911" stop-color="#f00" stop-opacity="0.016"/><stop offset="0.4200" stop-color="#f00" stop-opacity="0.038"/><stop offset="0.4444" stop-color="#f00" stop-opacity="0.078"/><stop offset="0.4644" stop-color="#f00" stop-opacity="0.141"/><stop offset="0.4800" stop-color="#f00" stop-opacity="0.222"/><stop offset="0.4911" stop-color="#f00" stop-opacity="0.308"/><stop offset="0.4978" stop-color="#f00" stop-opacity="0.375"/><stop offset="0.5000" stop-color="#f00" stop-opacity="0.400"/><stop offset="0.5022" stop-color="#f00" stop-opacity="0.375"/><stop offset="0.5089" stop-color="#f00" stop-opacity="0.308"/><stop offset="0.5200" stop-color="#f00" stop-opacity="0.222"/><stop offset="0.5356" stop-color="#f00" stop-opacity="0.141"/><stop offset="0.5556" stop-color="#f00" stop-opacity="0.078"/><stop offset="0.5800" stop-color="#f00" stop-opacity="0.038"/><stop offset="0.6089" stop-color="#f00" stop-opacity="0.016"/><stop offset="0.6422" stop-color="#f00" stop-opacity="0.006"/><stop offset="0.6800" stop-color="#f00" stop-opacity="0.002"/><stop offset="0.7222" stop-color="#f00" stop-opacity="0.001"/><stop offset="0.7689" stop-color="#f00" stop-opacity="0.000"/><stop offset="0.8200" stop-color="#f00" stop-opacity="0.000"/><stop offset="0.8756" stop-color="#f00" stop-opacity="0.000"/><stop offset="0.9356" stop-color="#f00" stop-opacity="0.000"/><stop offset="1.0000" stop-color="#f00" stop-opacity="0.000"/></linearGradient><g clip-path="url(#c36)"><rect transform="translate(216.30 335.90) rotate(45)" x="-80.8" y="-75.82" width="309.3" height="151.64" fill="url(#b37)"/></g><clipPath id="c38"><path d="M226.74 346.34 L237.18 346.34 L237.18 356.78 L226.74 356.78Z"/></clipPath><g clip-path="url(#c38)"><rect transform="translate(216.30 335.90) rotate(45)" x="-80.8" y="-75.82" width="309.3" height="151.64" fill="url(#b37)"/></g><clipPath id="c39"><path d="M237.18 356.78 L250.75 356.78 L250.75 370.35 L237.18 370.35Z"/></clipPath><g clip-path="url(#c39)"><rect transform="translate(216.30 335.90) rotate(45)" x="-80.8" y="-75.82" width="309.3" height="151.64" fill="url(#b37)"/></g><clipPath id="c40"><path d="M250.75 370.35 L260.15 370.35 L260.15 379.75 L250.75 379.75Z"/></clipPath><g clip-path="url(#c40)"><rect transform="translate(216.30 335.90) rotate(45)" x="-80.8" y="-75.82" width="309.3" height="151.64" fill="url(#b37)"/></g><clipPath id="c41"><path d="M260.15 379.75 L268.50 379.75 L268.50 388.10 L260.15 388.10Z"/></clipPath><g clip-path="url(#c41)"><rect transform="translate(216.30 335.90) rotate(45)" x="-80.8" y="-75.82" width="309.3" height="151.64" fill="url(#b37)"/></g><clipPath id="c42"><path d="M268.50 388.10 L276.85 388.10 L276.85 396.45 L268.50 396.45Z"/></clipPath><g clip-path="url(#c42)"><rect transform="translate(216.30 335.90) rotate(45)" x="-80.8" y="-75.82" width="309.3" height="151.64" fill="url(#b37)"/></g><clipPath id="c43"><path d="M276.85 396.45 L287.29 396.45 L287.29 406.89 L276.85 406.89Z"/></clipPath><g clip-path="url(#c43)"><rect transform="translate(216.30 335.90) rotate(45)" x="-80.8" y="-75.82" width="309.3" height="151.64" fill="url(#b37)"/></g><clipPath id="c44"><path d="M287.29 406.89 L297.73 406.89 L297.73 417.33 L287.29 417.33Z"/></clipPath><g clip-path="url(#c44)"><rect transform="translate(216.30 335.90) rotate(45)" x="-80.8" y="-75.82" width="309.3" height="151.64" fill="url(#b37)"/></g><clipPath id="c45"><path d="M297.73 417.33 L308.17 417.33 L308.17 427.77 L297.73 427.77Z"/></clipPath><g clip-path="url(#c45)"><rect transform="translate(216.30 335.90) rotate(45)" x="-80.8" y="-75.82" width="309.3" height="151.64" fill="url(#b37)"/></g><clipPath id="c46"><path d="M308.17 427.77 L320.70 427.77 L320.70 440.30 L308.17 440.30Z"/></clipPath><g clip-path="url(#c46)"><rect transform="translate(216.30 335.90) rotate(45)" x="-80.8" y="-75.82" width="309.3" height="151.64" fill="url(#b37)"/></g><linearGradient id="b47" x1="0" y1="0" x2="0" y2="1"><stop offset="0.0000" stop-color="#f00" stop-opacity="0.000"/><stop offset="0.0253" stop-color="#f00" stop-opacity="0.000"/><stop offset="0.0500" stop-color="#f00" stop-opacity="0.000"/><stop offset="0.0740" stop-color="#f00" stop-opacity="0.000"/><stop offset="0.0973" stop-color="#f00" stop-opacity="0.000"/><stop offset="0.1200" stop-color="#f00" stop-opacity="0.000"/><stop offset="0.1420" stop-color="#f00" stop-opacity="0.000"/><stop offset="0.1634" stop-color="#f00" stop-opacity="0.000"/><stop offset="0.1841" stop-color="#f00" stop-opacity="0.000"/><stop offset="0.2041" stop-color="#f00" stop-opacity="0.000"/><stop offset="0.2235" stop-color="#f00" stop-opacity="0.000"/><stop offset="0.2423" stop-color="#f00" stop-opacity="0.000"/><stop offset="0.2604" stop-color="#f00" stop-opacity="0.000"/><stop offset="0.2778" stop-color="#f00" stop-opacity="0.000"/><stop offset="0.2945" stop-color="#f00" stop-opacity="0.000"/><stop offset="0.3107" stop-color="#f00" stop-opacity="0.000"/><stop offset="0.3261" stop-color="#f00" stop-opacity="0.000"/><stop offset="0.3409" stop-color="#f00" stop-opacity="0.000"/><stop offset="0.3550" stop-color="#f00" stop-opacity="0.000"/><stop offset="0.3685" stop-color="#f00" stop-opacity="0.000"/><stop offset="0.3813" stop-color="#f00" stop-opacity="0.000"/><stop offset="0.3935" stop-color="#f00" stop-opacity="0.000"/><stop offset="0.4050" stop-color="#f00" stop-opacity="0.000"/><stop offset="0.4158" stop-color="#f00" stop-opacity="0.000"/><stop offset="0.4260" stop-color="#f00" stop-opacity="0.000"/><stop offset="0.4356" stop-color="#f00" stop-opacity="0.000"/><stop offset="0.4444" stop-color="#f00" stop-opacity="0.000"/><stop offset="0.4527" stop-color="#f00" stop-opacity="0.000"/><stop offset="0.4602" stop-color="#f00" stop-opacity="0.000"/><stop offset="0.4671" stop-color="#f00" stop-opacity="0.000"/><stop offset="0.4734" stop-color="#f00" stop-opacity="0.000"/><stop offset="0.4790" stop-color="#f00" stop-opacity="0.004"/><stop offset="0.4839" stop-color="#f00" stop-opacity="0.044"/><stop offset="0.4882" stop-color="#f00" stop-opacity="0.210"/><stop offset="0.4918" stop-color="#f00" stop-opacity="0.539"/><stop offset="0.4947" stop-color="#f00" stop-opacity="0.907"/><stop offset="0.4970" stop-color="#f00" stop-opacity="1.000"/><stop offset="0.4987" stop-color="#f00" stop-opacity="1.000"/><stop offset="0.4997" stop-color="#f00" stop-opacity="1.000"/><stop offset="0.5000" stop-color="#f00" stop-opacity="1.000"/><stop offset="0.5003" stop-color="#f00" stop-opacity="1.000"/><stop offset="0.5013" stop-color="#f00" stop-opacity="1.000"/><stop offset="0.5030" stop-color="#f00" stop-opacity="1.000"/><stop offset="0.5053" stop-color="#f00" stop-opacity="0.907"/><stop offset="0.5082" stop-color="#f00" stop-opacity="0.539"/><stop offset="0.5118" stop-color="#f00" stop-opacity="0.210"/><stop offset="0.5161" stop-color="#f00" stop-opacity="0.044"/><stop offset="0.5210" stop-color="#f00" stop-opacity="0.004"/><stop offset="0.5266" stop-color="#f00" stop-opacity="0.000"/><stop offset="0.5329" stop-color="#f00" stop-opacity="0.000"/><stop offset="0.5398" stop-color="#f00" stop-opacity="0.000"/><stop offset="0.5473" stop-color="#f00" stop-opacity="0.000"/><stop offset="0.5556" stop-color="#f00" stop-opacity="0.000"/><stop offset="0.5644" stop-color="#f00" stop-opacity="0.000"/><stop offset="0.5740" stop-color="#f00" stop-opacity="0.000"/><stop offset="0.5842" stop-color="#f00" stop-opacity="0.000"/><stop offset="0.5950" stop-color="#f00" stop-opacity="0.000"/><stop offset="0.6065" stop-color="#f00" stop-opacity="0.000"/><stop offset="0.6187" stop-color="#f00" stop-opacity="0.000"/><stop offset="0.6315" stop-color="#f00" stop-opacity="0.000"/><stop offset="0.6450" stop-color="#f00" stop-opacity="0.000"/><stop offset="0.6591" stop-color="#f00" stop-opacity="0.000"/><stop offset="0.6739" stop-color="#f00" stop-opacity="0.000"/><stop offset="0.6893" stop-color="#f00" stop-opacity="0.000"/><stop offset="0.7055" stop-color="#f00" stop-opacity="0.000"/><stop offset="0.7222" stop-color="#f00" stop-opacity="0.000"/><stop offset="0.7396" stop-color="#f00" stop-opacity="0.000"/><stop offset="0.7577" stop-color="#f00" stop-opacity="0.000"/><stop offset="0.7765" stop-color="#f00" stop-opacity="0.000"/><stop offset="0.7959" stop-color="#f00" stop-opacity="0.000"/><stop offset="0.8159" stop-color="#f00" stop-opacity="0.000"/><stop offset="0.8366" stop-color="#f00" stop-opacity="0.000"/><stop offset="0.8580" stop-color="#f00" stop-opacity="0.000"/><stop offset="0.8800" stop-color="#f00" stop-opacity="0.000"/><stop offset="0.9027" stop-color="#f00" stop-opacity="0.000"/><stop offset="0.9260" stop-color="#f00" stop-opacity="0.000"/><stop offset="0.9500" stop-color="#f00" stop-opacity="0.000"/><stop offset="0.9747" stop-color="#f00" stop-opacity="0.000"/><stop offset="1.0000" stop-color="#f00" stop-opacity="0.000"/></linearGradient><g clip-path="url(#c30)"><rect transform="translate(216.30 335.90) rotate(45)" x="-80.8" y="-75.82" width="309.3" height="151.64" fill="url(#b47)"/></g><line x1="216.30" y1="335.90" x2="320.70" y2="440.30" stroke="#dc9c9c" stroke-width="0.8"/><rect x="216.30" y="335.90" width="104.40" height="104.40" filter="url(#nzw)" opacity="0.6"/><rect x="216.30" y="335.90" width="104.40" height="104.40" filter="url(#nzr)" opacity="0.45"/><rect x="268.50" y="335.90" width="52.20" height="52.20" fill="#fff" fill-opacity="0.7"/><line x1="212.50" y1="335.90" x2="216.30" y2="335.90" stroke="#231f20" stroke-width="1.55"/><text x="198.88" y="338.80" font-size="9.30" fill="#231f20" color="#231f20"><tspan>1</tspan></text><line x1="212.50" y1="388.10" x2="216.30" y2="388.10" stroke="#231f20" stroke-width="1.55"/><text x="194.97" y="391.00" font-size="9.30" fill="#231f20" color="#231f20"><tspan>1.5</tspan></text><text x="199.02" y="442.80" font-size="9.30" fill="#231f20" color="#231f20"><tspan>2</tspan></text><path d="M212.5 440.2H216.1V443.8" fill="none" stroke="#231f20" stroke-width="1.55"/><text x="213.58" y="453.60" font-size="9.30" fill="#231f20" color="#231f20"><tspan>1</tspan></text><line x1="268.50" y1="440.30" x2="268.50" y2="443.90" stroke="#231f20" stroke-width="1.55"/><text x="261.87" y="453.60" font-size="9.30" fill="#231f20" color="#231f20"><tspan>1.5</tspan></text><line x1="320.70" y1="440.30" x2="320.70" y2="443.90" stroke="#231f20" stroke-width="1.55"/><text x="318.12" y="453.60" font-size="9.30" fill="#231f20" color="#231f20"><tspan>2</tspan></text><text x="274.85" y="345.60" font-size="10.20" fill="#231f20" color="#231f20"><tspan>Wild type</tspan></text><text x="269.02" y="367.40" font-size="9.75" fill="#231f20" color="#231f20"><tspan>Putative </tspan><tspan font-style="italic">dif</tspan></text><line x1="282.90" y1="371.20" x2="272.28" y2="380.84" stroke="#231f20" stroke-width="1.5"/><path d="M268.80 384.00L270.90 378.58L274.40 382.43Z" fill="#231f20"/><text x="220.30" y="436.20" font-size="9.92" fill="#231f20" color="#231f20"><tspan>Δ</tspan><tspan font-style="italic">smc</tspan></text><text x="280.01" y="436.20" font-size="9.77" fill="#231f20" color="#231f20"><tspan>5-kb res.</tspan></text><text x="223.39" y="469.00" font-size="8.28" fill="#231f20" color="#231f20"><tspan>Contact freq.</tspan></text><rect x="281.0" y="462.9" width="28.40" height="4.80" fill="url(#cb)" stroke="#000" stroke-width="1.2"/><line x1="281.00" y1="467.70" x2="281.00" y2="470.40" stroke="#000" stroke-width="1.2"/><line x1="309.40" y1="467.70" x2="309.40" y2="470.40" stroke="#000" stroke-width="1.2"/><text x="278.20" y="479.30" font-size="9.30" fill="#231f20" color="#231f20"><tspan>0</tspan></text><text x="304.12" y="479.30" font-size="9.30" fill="#231f20" color="#231f20"><tspan>12</tspan></text><text x="371.32" y="320.60" font-size="14.60" fill="#231f20" color="#231f20"><tspan font-weight="bold">g</tspan></text><text x="389.31" y="344.50" font-size="9.76" fill="#231f20" color="#231f20"><tspan font-style="italic">Halobacterium salinarum</tspan></text><text x="399.62" y="355.20" font-size="9.69" fill="#231f20" color="#231f20"><tspan>(main chromosome)</tspan></text><text x="494.44" y="361.70" font-size="9.38" fill="#231f20" color="#231f20"><tspan>(Mb)</tspan></text><text x="392.55" y="374.00" font-size="8.80" fill="#231f20" color="#231f20"><tspan>0.636</tspan></text><text x="475.75" y="374.00" font-size="8.80" fill="#231f20" color="#231f20"><tspan>0.638</tspan></text><line x1="381.90" y1="379.50" x2="504.70" y2="379.50" stroke="#231f20" stroke-width="1.55"/><line x1="403.50" y1="377.20" x2="403.50" y2="381.90" stroke="#231f20" stroke-width="1.45"/><line x1="445.00" y1="377.20" x2="445.00" y2="381.90" stroke="#231f20" stroke-width="1.45"/><line x1="487.00" y1="377.20" x2="487.00" y2="381.90" stroke="#231f20" stroke-width="1.45"/><text x="368.06" y="392.60" font-size="8.73" fill="#231f20" color="#231f20"><tspan font-style="italic">VNG_0836H</tspan></text><text x="422.76" y="392.60" font-size="8.75" fill="#231f20" color="#231f20"><tspan font-style="italic">VNG_0837H</tspan></text><path d="M389.90 396.80H402.00L406.20 399.70L402.00 402.60H389.90Z" fill="#dcdddd" stroke="#231f20" stroke-width="1.45"/><path d="M441.6 396.9H449.8L452.8 399.7L449.8 402.4H441.6Z" fill="#66c8f5" stroke="#231f20" stroke-width="1.45"/><path d="M452.8 399.7L449.8 396.9H494.6L498.2 399.7L494.6 402.4H449.8Z" fill="#66c8f5" stroke="#231f20" stroke-width="1.45"/><text x="450.95" y="412.30" font-size="8.79" fill="#231f20" color="#231f20"><tspan font-style="italic">VNG_0838G</tspan></text><text x="445.67" y="422.60" font-size="8.88" fill="#231f20" color="#231f20"><tspan>(</tspan><tspan font-style="italic">xerA</tspan><tspan> homolog)</tspan></text><path d="M432.90 438.30H438.70L435.80 432.20Z" fill="#ee1c25"/><text x="392.56" y="447.40" font-size="9.29" fill="#231f20" color="#231f20"><tspan>Putative </tspan><tspan font-style="italic">dif</tspan><tspan> (636756)</tspan></text><text x="527.52" y="323.40" font-size="9.74" fill="#231f20" color="#231f20"><tspan>(Mb)</tspan></text><clipPath id="c48"><rect x="552.30" y="335.90" width="104.40" height="104.40"/></clipPath><rect x="552.30" y="335.90" width="104.40" height="104.40" fill="rgb(255,255,255)"/><linearGradient id="b49" x1="0" y1="0" x2="0" y2="1"><stop offset="0.0000" stop-color="#f00" stop-opacity="0.035"/><stop offset="0.0253" stop-color="#f00" stop-opacity="0.036"/><stop offset="0.0500" stop-color="#f00" stop-opacity="0.037"/><stop offset="0.0740" stop-color="#f00" stop-opacity="0.038"/><stop offset="0.0973" stop-color="#f00" stop-opacity="0.039"/><stop offset="0.1200" stop-color="#f00" stop-opacity="0.041"/><stop offset="0.1420" stop-color="#f00" stop-opacity="0.042"/><stop offset="0.1634" stop-color="#f00" stop-opacity="0.044"/><stop offset="0.1841" stop-color="#f00" stop-opacity="0.046"/><stop offset="0.2041" stop-color="#f00" stop-opacity="0.049"/><stop offset="0.2235" stop-color="#f00" stop-opacity="0.051"/><stop offset="0.2423" stop-color="#f00" stop-opacity="0.054"/><stop offset="0.2604" stop-color="#f00" stop-opacity="0.058"/><stop offset="0.2778" stop-color="#f00" stop-opacity="0.061"/><stop offset="0.2945" stop-color="#f00" stop-opacity="0.065"/><stop offset="0.3107" stop-color="#f00" stop-opacity="0.070"/><stop offset="0.3261" stop-color="#f00" stop-opacity="0.075"/><stop offset="0.3409" stop-color="#f00" stop-opacity="0.081"/><stop offset="0.3550" stop-color="#f00" stop-opacity="0.089"/><stop offset="0.3685" stop-color="#f00" stop-opacity="0.097"/><stop offset="0.3813" stop-color="#f00" stop-opacity="0.107"/><stop offset="0.3935" stop-color="#f00" stop-opacity="0.119"/><stop offset="0.4050" stop-color="#f00" stop-opacity="0.133"/><stop offset="0.4158" stop-color="#f00" stop-opacity="0.150"/><stop offset="0.4260" stop-color="#f00" stop-opacity="0.169"/><stop offset="0.4356" stop-color="#f00" stop-opacity="0.192"/><stop offset="0.4444" stop-color="#f00" stop-opacity="0.219"/><stop offset="0.4527" stop-color="#f00" stop-opacity="0.254"/><stop offset="0.4602" stop-color="#f00" stop-opacity="0.304"/><stop offset="0.4671" stop-color="#f00" stop-opacity="0.387"/><stop offset="0.4734" stop-color="#f00" stop-opacity="0.513"/><stop offset="0.4790" stop-color="#f00" stop-opacity="0.679"/><stop offset="0.4839" stop-color="#f00" stop-opacity="0.860"/><stop offset="0.4882" stop-color="#f00" stop-opacity="1.000"/><stop offset="0.4918" stop-color="#f00" stop-opacity="1.000"/><stop offset="0.4947" stop-color="#f00" stop-opacity="1.000"/><stop offset="0.4970" stop-color="#f00" stop-opacity="1.000"/><stop offset="0.4987" stop-color="#f00" stop-opacity="1.000"/><stop offset="0.4997" stop-color="#f00" stop-opacity="1.000"/><stop offset="0.5000" stop-color="#f00" stop-opacity="1.000"/><stop offset="0.5003" stop-color="#f00" stop-opacity="1.000"/><stop offset="0.5013" stop-color="#f00" stop-opacity="1.000"/><stop offset="0.5030" stop-color="#f00" stop-opacity="1.000"/><stop offset="0.5053" stop-color="#f00" stop-opacity="1.000"/><stop offset="0.5082" stop-color="#f00" stop-opacity="1.000"/><stop offset="0.5118" stop-color="#f00" stop-opacity="1.000"/><stop offset="0.5161" stop-color="#f00" stop-opacity="0.860"/><stop offset="0.5210" stop-color="#f00" stop-opacity="0.679"/><stop offset="0.5266" stop-color="#f00" stop-opacity="0.513"/><stop offset="0.5329" stop-color="#f00" stop-opacity="0.387"/><stop offset="0.5398" stop-color="#f00" stop-opacity="0.304"/><stop offset="0.5473" stop-color="#f00" stop-opacity="0.254"/><stop offset="0.5556" stop-color="#f00" stop-opacity="0.219"/><stop offset="0.5644" stop-color="#f00" stop-opacity="0.192"/><stop offset="0.5740" stop-color="#f00" stop-opacity="0.169"/><stop offset="0.5842" stop-color="#f00" stop-opacity="0.150"/><stop offset="0.5950" stop-color="#f00" stop-opacity="0.133"/><stop offset="0.6065" stop-color="#f00" stop-opacity="0.119"/><stop offset="0.6187" stop-color="#f00" stop-opacity="0.107"/><stop offset="0.6315" stop-color="#f00" stop-opacity="0.097"/><stop offset="0.6450" stop-color="#f00" stop-opacity="0.089"/><stop offset="0.6591" stop-color="#f00" stop-opacity="0.081"/><stop offset="0.6739" stop-color="#f00" stop-opacity="0.075"/><stop offset="0.6893" stop-color="#f00" stop-opacity="0.070"/><stop offset="0.7055" stop-color="#f00" stop-opacity="0.065"/><stop offset="0.7222" stop-color="#f00" stop-opacity="0.061"/><stop offset="0.7396" stop-color="#f00" stop-opacity="0.058"/><stop offset="0.7577" stop-color="#f00" stop-opacity="0.054"/><stop offset="0.7765" stop-color="#f00" stop-opacity="0.051"/><stop offset="0.7959" stop-color="#f00" stop-opacity="0.049"/><stop offset="0.8159" stop-color="#f00" stop-opacity="0.046"/><stop offset="0.8366" stop-color="#f00" stop-opacity="0.044"/><stop offset="0.8580" stop-color="#f00" stop-opacity="0.042"/><stop offset="0.8800" stop-color="#f00" stop-opacity="0.041"/><stop offset="0.9027" stop-color="#f00" stop-opacity="0.039"/><stop offset="0.9260" stop-color="#f00" stop-opacity="0.038"/><stop offset="0.9500" stop-color="#f00" stop-opacity="0.037"/><stop offset="0.9747" stop-color="#f00" stop-opacity="0.036"/><stop offset="1.0000" stop-color="#f00" stop-opacity="0.035"/></linearGradient><g clip-path="url(#c48)"><rect transform="translate(552.30 335.90) rotate(45)" x="-80.8" y="-75.82" width="309.3" height="151.64" fill="url(#b49)"/></g><clipPath id="c50"><path d="M552.30 335.90 L560.13 335.90 L560.13 343.73 L552.30 343.73Z"/></clipPath><linearGradient id="b51" x1="0" y1="0" x2="0" y2="1"><stop offset="0.0000" stop-color="#f00" stop-opacity="0.000"/><stop offset="0.0644" stop-color="#f00" stop-opacity="0.000"/><stop offset="0.1244" stop-color="#f00" stop-opacity="0.001"/><stop offset="0.1800" stop-color="#f00" stop-opacity="0.002"/><stop offset="0.2311" stop-color="#f00" stop-opacity="0.004"/><stop offset="0.2778" stop-color="#f00" stop-opacity="0.008"/><stop offset="0.3200" stop-color="#f00" stop-opacity="0.016"/><stop offset="0.3578" stop-color="#f00" stop-opacity="0.029"/><stop offset="0.3911" stop-color="#f00" stop-opacity="0.050"/><stop offset="0.4200" stop-color="#f00" stop-opacity="0.081"/><stop offset="0.4444" stop-color="#f00" stop-opacity="0.120"/><stop offset="0.4644" stop-color="#f00" stop-opacity="0.167"/><stop offset="0.4800" stop-color="#f00" stop-opacity="0.216"/><stop offset="0.4911" stop-color="#f00" stop-opacity="0.259"/><stop offset="0.4978" stop-color="#f00" stop-opacity="0.289"/><stop offset="0.5000" stop-color="#f00" stop-opacity="0.300"/><stop offset="0.5022" stop-color="#f00" stop-opacity="0.289"/><stop offset="0.5089" stop-color="#f00" stop-opacity="0.259"/><stop offset="0.5200" stop-color="#f00" stop-opacity="0.216"/><stop offset="0.5356" stop-color="#f00" stop-opacity="0.167"/><stop offset="0.5556" stop-color="#f00" stop-opacity="0.120"/><stop offset="0.5800" stop-color="#f00" stop-opacity="0.081"/><stop offset="0.6089" stop-color="#f00" stop-opacity="0.050"/><stop offset="0.6422" stop-color="#f00" stop-opacity="0.029"/><stop offset="0.6800" stop-color="#f00" stop-opacity="0.016"/><stop offset="0.7222" stop-color="#f00" stop-opacity="0.008"/><stop offset="0.7689" stop-color="#f00" stop-opacity="0.004"/><stop offset="0.8200" stop-color="#f00" stop-opacity="0.002"/><stop offset="0.8756" stop-color="#f00" stop-opacity="0.001"/><stop offset="0.9356" stop-color="#f00" stop-opacity="0.000"/><stop offset="1.0000" stop-color="#f00" stop-opacity="0.000"/></linearGradient><g clip-path="url(#c50)"><rect transform="translate(552.30 335.90) rotate(45)" x="-80.8" y="-75.82" width="309.3" height="151.64" fill="url(#b51)"/></g><clipPath id="c52"><path d="M560.13 343.73 L569.26 343.73 L569.26 352.86 L560.13 352.86Z"/></clipPath><g clip-path="url(#c52)"><rect transform="translate(552.30 335.90) rotate(45)" x="-80.8" y="-75.82" width="309.3" height="151.64" fill="url(#b51)"/></g><clipPath id="c53"><path d="M569.26 352.86 L581.01 352.86 L581.01 364.61 L569.26 364.61Z"/></clipPath><g clip-path="url(#c53)"><rect transform="translate(552.30 335.90) rotate(45)" x="-80.8" y="-75.82" width="309.3" height="151.64" fill="url(#b51)"/></g><clipPath id="c54"><path d="M620.16 403.76 L630.60 403.76 L630.60 414.20 L620.16 414.20Z"/></clipPath><g clip-path="url(#c54)"><rect transform="translate(552.30 335.90) rotate(45)" x="-80.8" y="-75.82" width="309.3" height="151.64" fill="url(#b51)"/></g><clipPath id="c55"><path d="M630.60 414.20 L641.04 414.20 L641.04 424.64 L630.60 424.64Z"/></clipPath><g clip-path="url(#c55)"><rect transform="translate(552.30 335.90) rotate(45)" x="-80.8" y="-75.82" width="309.3" height="151.64" fill="url(#b51)"/></g><clipPath id="c56"><path d="M641.04 424.64 L650.17 424.64 L650.17 433.77 L641.04 433.77Z"/></clipPath><g clip-path="url(#c56)"><rect transform="translate(552.30 335.90) rotate(45)" x="-80.8" y="-75.82" width="309.3" height="151.64" fill="url(#b51)"/></g><clipPath id="c57"><path d="M650.17 433.77 L656.70 433.77 L656.70 440.30 L650.17 440.30Z"/></clipPath><g clip-path="url(#c57)"><rect transform="translate(552.30 335.90) rotate(45)" x="-80.8" y="-75.82" width="309.3" height="151.64" fill="url(#b51)"/></g><clipPath id="c58"><path d="M581.01 364.61 L591.45 364.61 L591.45 375.05 L581.01 375.05Z"/></clipPath><linearGradient id="b59" x1="0" y1="0" x2="0" y2="1"><stop offset="0.0000" stop-color="#f00" stop-opacity="0.009"/><stop offset="0.0644" stop-color="#f00" stop-opacity="0.015"/><stop offset="0.1244" stop-color="#f00" stop-opacity="0.025"/><stop offset="0.1800" stop-color="#f00" stop-opacity="0.040"/><stop offset="0.2311" stop-color="#f00" stop-opacity="0.060"/><stop offset="0.2778" stop-color="#f00" stop-opacity="0.089"/><stop offset="0.3200" stop-color="#f00" stop-opacity="0.125"/><stop offset="0.3578" stop-color="#f00" stop-opacity="0.171"/><stop offset="0.3911" stop-color="#f00" stop-opacity="0.225"/><stop offset="0.4200" stop-color="#f00" stop-opacity="0.285"/><stop offset="0.4444" stop-color="#f00" stop-opacity="0.348"/><stop offset="0.4644" stop-color="#f00" stop-opacity="0.411"/><stop offset="0.4800" stop-color="#f00" stop-opacity="0.467"/><stop offset="0.4911" stop-color="#f00" stop-opacity="0.511"/><stop offset="0.4978" stop-color="#f00" stop-opacity="0.540"/><stop offset="0.5000" stop-color="#f00" stop-opacity="0.550"/><stop offset="0.5022" stop-color="#f00" stop-opacity="0.540"/><stop offset="0.5089" stop-color="#f00" stop-opacity="0.511"/><stop offset="0.5200" stop-color="#f00" stop-opacity="0.467"/><stop offset="0.5356" stop-color="#f00" stop-opacity="0.411"/><stop offset="0.5556" stop-color="#f00" stop-opacity="0.348"/><stop offset="0.5800" stop-color="#f00" stop-opacity="0.285"/><stop offset="0.6089" stop-color="#f00" stop-opacity="0.225"/><stop offset="0.6422" stop-color="#f00" stop-opacity="0.171"/><stop offset="0.6800" stop-color="#f00" stop-opacity="0.125"/><stop offset="0.7222" stop-color="#f00" stop-opacity="0.089"/><stop offset="0.7689" stop-color="#f00" stop-opacity="0.060"/><stop offset="0.8200" stop-color="#f00" stop-opacity="0.040"/><stop offset="0.8756" stop-color="#f00" stop-opacity="0.025"/><stop offset="0.9356" stop-color="#f00" stop-opacity="0.015"/><stop offset="1.0000" stop-color="#f00" stop-opacity="0.009"/></linearGradient><g clip-path="url(#c58)"><rect transform="translate(552.30 335.90) rotate(45)" x="-80.8" y="-75.82" width="309.3" height="151.64" fill="url(#b59)"/></g><clipPath id="c60"><path d="M591.45 375.05 L609.33 375.05 L609.33 392.93 L591.45 392.93Z"/></clipPath><linearGradient id="b61" x1="0" y1="0" x2="0" y2="1"><stop offset="0.0000" stop-color="#f00" stop-opacity="0.010"/><stop offset="0.0644" stop-color="#f00" stop-opacity="0.017"/><stop offset="0.1244" stop-color="#f00" stop-opacity="0.027"/><stop offset="0.1800" stop-color="#f00" stop-opacity="0.043"/><stop offset="0.2311" stop-color="#f00" stop-opacity="0.066"/><stop offset="0.2778" stop-color="#f00" stop-opacity="0.097"/><stop offset="0.3200" stop-color="#f00" stop-opacity="0.137"/><stop offset="0.3578" stop-color="#f00" stop-opacity="0.186"/><stop offset="0.3911" stop-color="#f00" stop-opacity="0.245"/><stop offset="0.4200" stop-color="#f00" stop-opacity="0.311"/><stop offset="0.4444" stop-color="#f00" stop-opacity="0.380"/><stop offset="0.4644" stop-color="#f00" stop-opacity="0.448"/><stop offset="0.4800" stop-color="#f00" stop-opacity="0.509"/><stop offset="0.4911" stop-color="#f00" stop-opacity="0.558"/><stop offset="0.4978" stop-color="#f00" stop-opacity="0.589"/><stop offset="0.5000" stop-color="#f00" stop-opacity="0.600"/><stop offset="0.5022" stop-color="#f00" stop-opacity="0.589"/><stop offset="0.5089" stop-color="#f00" stop-opacity="0.558"/><stop offset="0.5200" stop-color="#f00" stop-opacity="0.509"/><stop offset="0.5356" stop-color="#f00" stop-opacity="0.448"/><stop offset="0.5556" stop-color="#f00" stop-opacity="0.380"/><stop offset="0.5800" stop-color="#f00" stop-opacity="0.311"/><stop offset="0.6089" stop-color="#f00" stop-opacity="0.245"/><stop offset="0.6422" stop-color="#f00" stop-opacity="0.186"/><stop offset="0.6800" stop-color="#f00" stop-opacity="0.137"/><stop offset="0.7222" stop-color="#f00" stop-opacity="0.097"/><stop offset="0.7689" stop-color="#f00" stop-opacity="0.066"/><stop offset="0.8200" stop-color="#f00" stop-opacity="0.043"/><stop offset="0.8756" stop-color="#f00" stop-opacity="0.027"/><stop offset="0.9356" stop-color="#f00" stop-opacity="0.017"/><stop offset="1.0000" stop-color="#f00" stop-opacity="0.010"/></linearGradient><g clip-path="url(#c60)"><rect transform="translate(552.30 335.90) rotate(45)" x="-80.8" y="-75.82" width="309.3" height="151.64" fill="url(#b61)"/></g><clipPath id="c62"><path d="M609.33 392.93 L620.16 392.93 L620.16 403.76 L609.33 403.76Z"/></clipPath><linearGradient id="b63" x1="0" y1="0" x2="0" y2="1"><stop offset="0.0000" stop-color="#f00" stop-opacity="0.000"/><stop offset="0.0644" stop-color="#f00" stop-opacity="0.000"/><stop offset="0.1244" stop-color="#f00" stop-opacity="0.001"/><stop offset="0.1800" stop-color="#f00" stop-opacity="0.002"/><stop offset="0.2311" stop-color="#f00" stop-opacity="0.005"/><stop offset="0.2778" stop-color="#f00" stop-opacity="0.012"/><stop offset="0.3200" stop-color="#f00" stop-opacity="0.023"/><stop offset="0.3578" stop-color="#f00" stop-opacity="0.043"/><stop offset="0.3911" stop-color="#f00" stop-opacity="0.075"/><stop offset="0.4200" stop-color="#f00" stop-opacity="0.121"/><stop offset="0.4444" stop-color="#f00" stop-opacity="0.181"/><stop offset="0.4644" stop-color="#f00" stop-opacity="0.251"/><stop offset="0.4800" stop-color="#f00" stop-opacity="0.324"/><stop offset="0.4911" stop-color="#f00" stop-opacity="0.389"/><stop offset="0.4978" stop-color="#f00" stop-opacity="0.434"/><stop offset="0.5000" stop-color="#f00" stop-opacity="0.450"/><stop offset="0.5022" stop-color="#f00" stop-opacity="0.434"/><stop offset="0.5089" stop-color="#f00" stop-opacity="0.389"/><stop offset="0.5200" stop-color="#f00" stop-opacity="0.324"/><stop offset="0.5356" stop-color="#f00" stop-opacity="0.251"/><stop offset="0.5556" stop-color="#f00" stop-opacity="0.181"/><stop offset="0.5800" stop-color="#f00" stop-opacity="0.121"/><stop offset="0.6089" stop-color="#f00" stop-opacity="0.075"/><stop offset="0.6422" stop-color="#f00" stop-opacity="0.043"/><stop offset="0.6800" stop-color="#f00" stop-opacity="0.023"/><stop offset="0.7222" stop-color="#f00" stop-opacity="0.012"/><stop offset="0.7689" stop-color="#f00" stop-opacity="0.005"/><stop offset="0.8200" stop-color="#f00" stop-opacity="0.002"/><stop offset="0.8756" stop-color="#f00" stop-opacity="0.001"/><stop offset="0.9356" stop-color="#f00" stop-opacity="0.000"/><stop offset="1.0000" stop-color="#f00" stop-opacity="0.000"/></linearGradient><g clip-path="url(#c62)"><rect transform="translate(552.30 335.90) rotate(45)" x="-80.8" y="-75.82" width="309.3" height="151.64" fill="url(#b63)"/></g><clipPath id="c64"><path d="M609.33 392.93 L656.70 392.93 L656.70 440.30 L609.33 440.30Z"/></clipPath><linearGradient id="b65" x1="0" y1="0" x2="0" y2="1"><stop offset="0.0000" stop-color="#f00" stop-opacity="0.000"/><stop offset="0.0253" stop-color="#f00" stop-opacity="0.001"/><stop offset="0.0500" stop-color="#f00" stop-opacity="0.001"/><stop offset="0.0740" stop-color="#f00" stop-opacity="0.001"/><stop offset="0.0973" stop-color="#f00" stop-opacity="0.001"/><stop offset="0.1200" stop-color="#f00" stop-opacity="0.002"/><stop offset="0.1420" stop-color="#f00" stop-opacity="0.002"/><stop offset="0.1634" stop-color="#f00" stop-opacity="0.003"/><stop offset="0.1841" stop-color="#f00" stop-opacity="0.003"/><stop offset="0.2041" stop-color="#f00" stop-opacity="0.004"/><stop offset="0.2235" stop-color="#f00" stop-opacity="0.005"/><stop offset="0.2423" stop-color="#f00" stop-opacity="0.006"/><stop offset="0.2604" stop-color="#f00" stop-opacity="0.007"/><stop offset="0.2778" stop-color="#f00" stop-opacity="0.009"/><stop offset="0.2945" stop-color="#f00" stop-opacity="0.011"/><stop offset="0.3107" stop-color="#f00" stop-opacity="0.013"/><stop offset="0.3261" stop-color="#f00" stop-opacity="0.015"/><stop offset="0.3409" stop-color="#f00" stop-opacity="0.017"/><stop offset="0.3550" stop-color="#f00" stop-opacity="0.020"/><stop offset="0.3685" stop-color="#f00" stop-opacity="0.024"/><stop offset="0.3813" stop-color="#f00" stop-opacity="0.027"/><stop offset="0.3935" stop-color="#f00" stop-opacity="0.031"/><stop offset="0.4050" stop-color="#f00" stop-opacity="0.035"/><stop offset="0.4158" stop-color="#f00" stop-opacity="0.040"/><stop offset="0.4260" stop-color="#f00" stop-opacity="0.044"/><stop offset="0.4356" stop-color="#f00" stop-opacity="0.049"/><stop offset="0.4444" stop-color="#f00" stop-opacity="0.054"/><stop offset="0.4527" stop-color="#f00" stop-opacity="0.060"/><stop offset="0.4602" stop-color="#f00" stop-opacity="0.065"/><stop offset="0.4671" stop-color="#f00" stop-opacity="0.070"/><stop offset="0.4734" stop-color="#f00" stop-opacity="0.075"/><stop offset="0.4790" stop-color="#f00" stop-opacity="0.079"/><stop offset="0.4839" stop-color="#f00" stop-opacity="0.084"/><stop offset="0.4882" stop-color="#f00" stop-opacity="0.088"/><stop offset="0.4918" stop-color="#f00" stop-opacity="0.091"/><stop offset="0.4947" stop-color="#f00" stop-opacity="0.094"/><stop offset="0.4970" stop-color="#f00" stop-opacity="0.097"/><stop offset="0.4987" stop-color="#f00" stop-opacity="0.099"/><stop offset="0.4997" stop-color="#f00" stop-opacity="0.100"/><stop offset="0.5000" stop-color="#f00" stop-opacity="0.100"/><stop offset="0.5003" stop-color="#f00" stop-opacity="0.100"/><stop offset="0.5013" stop-color="#f00" stop-opacity="0.099"/><stop offset="0.5030" stop-color="#f00" stop-opacity="0.097"/><stop offset="0.5053" stop-color="#f00" stop-opacity="0.094"/><stop offset="0.5082" stop-color="#f00" stop-opacity="0.091"/><stop offset="0.5118" stop-color="#f00" stop-opacity="0.088"/><stop offset="0.5161" stop-color="#f00" stop-opacity="0.084"/><stop offset="0.5210" stop-color="#f00" stop-opacity="0.079"/><stop offset="0.5266" stop-color="#f00" stop-opacity="0.075"/><stop offset="0.5329" stop-color="#f00" stop-opacity="0.070"/><stop offset="0.5398" stop-color="#f00" stop-opacity="0.065"/><stop offset="0.5473" stop-color="#f00" stop-opacity="0.060"/><stop offset="0.5556" stop-color="#f00" stop-opacity="0.054"/><stop offset="0.5644" stop-color="#f00" stop-opacity="0.049"/><stop offset="0.5740" stop-color="#f00" stop-opacity="0.044"/><stop offset="0.5842" stop-color="#f00" stop-opacity="0.040"/><stop offset="0.5950" stop-color="#f00" stop-opacity="0.035"/><stop offset="0.6065" stop-color="#f00" stop-opacity="0.031"/><stop offset="0.6187" stop-color="#f00" stop-opacity="0.027"/><stop offset="0.6315" stop-color="#f00" stop-opacity="0.024"/><stop offset="0.6450" stop-color="#f00" stop-opacity="0.020"/><stop offset="0.6591" stop-color="#f00" stop-opacity="0.017"/><stop offset="0.6739" stop-color="#f00" stop-opacity="0.015"/><stop offset="0.6893" stop-color="#f00" stop-opacity="0.013"/><stop offset="0.7055" stop-color="#f00" stop-opacity="0.011"/><stop offset="0.7222" stop-color="#f00" stop-opacity="0.009"/><stop offset="0.7396" stop-color="#f00" stop-opacity="0.007"/><stop offset="0.7577" stop-color="#f00" stop-opacity="0.006"/><stop offset="0.7765" stop-color="#f00" stop-opacity="0.005"/><stop offset="0.7959" stop-color="#f00" stop-opacity="0.004"/><stop offset="0.8159" stop-color="#f00" stop-opacity="0.003"/><stop offset="0.8366" stop-color="#f00" stop-opacity="0.003"/><stop offset="0.8580" stop-color="#f00" stop-opacity="0.002"/><stop offset="0.8800" stop-color="#f00" stop-opacity="0.002"/><stop offset="0.9027" stop-color="#f00" stop-opacity="0.001"/><stop offset="0.9260" stop-color="#f00" stop-opacity="0.001"/><stop offset="0.9500" stop-color="#f00" stop-opacity="0.001"/><stop offset="0.9747" stop-color="#f00" stop-opacity="0.001"/><stop offset="1.0000" stop-color="#f00" stop-opacity="0.000"/></linearGradient><g clip-path="url(#c64)"><rect transform="translate(552.30 335.90) rotate(45)" x="-80.8" y="-75.82" width="309.3" height="151.64" fill="url(#b65)"/></g><line x1="552.30" y1="335.90" x2="656.70" y2="440.30" stroke="#cc9494" stroke-width="0.7"/><rect x="552.30" y="335.90" width="104.40" height="104.40" filter="url(#nzw)" opacity="0.8"/><rect x="552.30" y="335.90" width="104.40" height="104.40" filter="url(#nzr)" opacity="0.5"/><line x1="548.80" y1="335.90" x2="552.30" y2="335.90" stroke="#231f20" stroke-width="1.55"/><text x="531.08" y="338.80" font-size="9.30" fill="#231f20" color="#231f20"><tspan>0.2</tspan></text><line x1="548.80" y1="388.10" x2="552.30" y2="388.10" stroke="#231f20" stroke-width="1.55"/><text x="531.04" y="391.00" font-size="9.30" fill="#231f20" color="#231f20"><tspan>0.6</tspan></text><text x="534.78" y="443.00" font-size="9.30" fill="#231f20" color="#231f20"><tspan>1</tspan></text><path d="M548.8 440.3H552.2V443.9" fill="none" stroke="#231f20" stroke-width="1.55"/><text x="545.88" y="453.80" font-size="9.30" fill="#231f20" color="#231f20"><tspan>0.2</tspan></text><line x1="604.50" y1="440.30" x2="604.50" y2="443.90" stroke="#231f20" stroke-width="1.55"/><text x="598.04" y="453.80" font-size="9.30" fill="#231f20" color="#231f20"><tspan>0.6</tspan></text><line x1="656.60" y1="440.30" x2="656.60" y2="443.90" stroke="#231f20" stroke-width="1.55"/><text x="653.88" y="453.80" font-size="9.30" fill="#231f20" color="#231f20"><tspan>1</tspan></text><text x="605.11" y="374.30" font-size="9.83" fill="#231f20" color="#231f20"><tspan>Putative </tspan><tspan font-style="italic">dif</tspan></text><line x1="624.90" y1="377.90" x2="615.41" y2="387.46" stroke="#231f20" stroke-width="1.5"/><path d="M612.10 390.80L613.92 385.28L617.61 388.94Z" fill="#231f20"/><text x="616.21" y="436.40" font-size="9.72" fill="#231f20" color="#231f20"><tspan>5-kb res.</tspan></text><text x="559.18" y="469.20" font-size="8.48" fill="#231f20" color="#231f20"><tspan>Contact freq.</tspan></text><rect x="616.8" y="463.5" width="28.20" height="4.80" fill="url(#cb)" stroke="#000" stroke-width="1.2"/><line x1="616.80" y1="468.30" x2="616.80" y2="470.90" stroke="#000" stroke-width="1.2"/><line x1="645.00" y1="468.30" x2="645.00" y2="470.90" stroke="#000" stroke-width="1.2"/><text x="614.40" y="479.30" font-size="9.30" fill="#231f20" color="#231f20"><tspan>0</tspan></text><text x="640.15" y="479.30" font-size="9.30" fill="#231f20" color="#231f20"><tspan>10</tspan></text></svg></body></html>
